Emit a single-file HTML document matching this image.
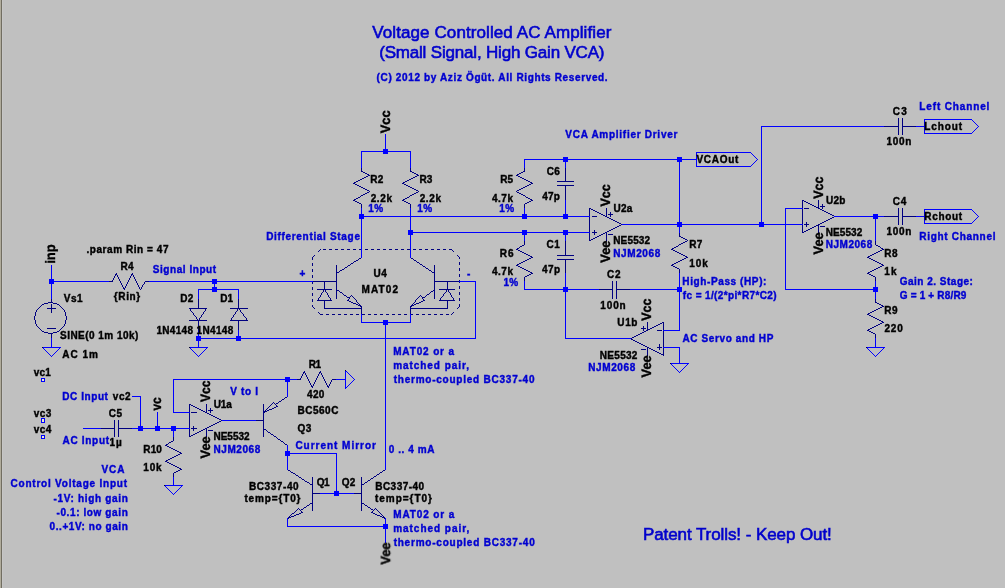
<!DOCTYPE html>
<html><head><meta charset="utf-8"><title>Voltage Controlled AC Amplifier</title>
<style>
html,body{margin:0;padding:0;background:#c0c0c0;overflow:hidden}
svg{display:block}
text{font-family:"Liberation Sans",Arial,Helvetica,sans-serif;font-weight:bold;white-space:pre}
</style></head>
<body>
<svg width="1005" height="588" viewBox="0 0 1005 588">
<rect x="0" y="0" width="1005" height="588" fill="#c0c0c0"/>
<rect x="0" y="0" width="1" height="588" fill="#b0ac9c"/><rect x="1" y="0" width="1" height="588" fill="#716d61"/><rect x="2" y="0" width="1" height="588" fill="#c6c6c6"/>
<g shape-rendering="crispEdges" stroke="none">
<path fill="#000080" d="M898 118h1v1h-1zM902 118h1v1h-1zM898 119h1v1h-1zM902 119h1v1h-1zM898 120h1v1h-1zM902 120h1v1h-1zM898 121h1v1h-1zM902 121h1v1h-1zM898 122h1v1h-1zM902 122h1v1h-1zM898 123h1v1h-1zM902 123h1v1h-1zM898 124h1v1h-1zM902 124h1v1h-1zM898 125h1v1h-1zM902 125h1v1h-1zM884 126h15v1h-15zM902 126h14v1h-14zM898 127h1v1h-1zM902 127h1v1h-1zM898 128h1v1h-1zM902 128h1v1h-1zM898 129h1v1h-1zM902 129h1v1h-1zM898 130h1v1h-1zM902 130h1v1h-1zM898 131h1v1h-1zM902 131h1v1h-1zM898 132h1v1h-1zM902 132h1v1h-1zM898 133h1v1h-1zM902 133h1v1h-1zM898 134h1v1h-1zM902 134h1v1h-1zM361 168h1v1h-1zM410 168h1v1h-1zM524 168h1v1h-1zM565 168h1v1h-1zM361 169h1v1h-1zM410 169h1v1h-1zM524 169h1v1h-1zM565 169h1v1h-1zM361 170h1v1h-1zM410 170h1v1h-1zM524 170h1v1h-1zM565 170h1v1h-1zM361 171h2v1h-2zM410 171h2v1h-2zM523 171h2v1h-2zM565 171h1v1h-1zM363 172h2v1h-2zM412 172h2v1h-2zM521 172h2v1h-2zM565 172h1v1h-1zM365 173h2v1h-2zM414 173h2v1h-2zM519 173h2v1h-2zM565 173h1v1h-1zM367 174h2v1h-2zM416 174h2v1h-2zM517 174h2v1h-2zM565 174h1v1h-1zM368 175h2v1h-2zM417 175h2v1h-2zM516 175h2v1h-2zM565 175h1v1h-1zM366 176h2v1h-2zM415 176h2v1h-2zM518 176h2v1h-2zM565 176h1v1h-1zM364 177h2v1h-2zM413 177h2v1h-2zM520 177h2v1h-2zM565 177h1v1h-1zM362 178h2v1h-2zM411 178h2v1h-2zM522 178h2v1h-2zM565 178h1v1h-1zM360 179h2v1h-2zM409 179h2v1h-2zM524 179h2v1h-2zM565 179h1v1h-1zM358 180h2v1h-2zM407 180h2v1h-2zM526 180h2v1h-2zM565 180h1v1h-1zM356 181h2v1h-2zM405 181h2v1h-2zM528 181h2v1h-2zM557 181h17v1h-17zM354 182h2v1h-2zM403 182h2v1h-2zM530 182h2v1h-2zM353 183h2v1h-2zM402 183h2v1h-2zM531 183h2v1h-2zM355 184h2v1h-2zM404 184h2v1h-2zM529 184h2v1h-2zM357 185h2v1h-2zM406 185h2v1h-2zM527 185h2v1h-2zM557 185h17v1h-17zM359 186h2v1h-2zM408 186h2v1h-2zM525 186h2v1h-2zM565 186h1v1h-1zM361 187h2v1h-2zM410 187h2v1h-2zM523 187h2v1h-2zM565 187h1v1h-1zM363 188h2v1h-2zM412 188h2v1h-2zM521 188h2v1h-2zM565 188h1v1h-1zM365 189h2v1h-2zM414 189h2v1h-2zM519 189h2v1h-2zM565 189h1v1h-1zM367 190h2v1h-2zM416 190h2v1h-2zM517 190h2v1h-2zM565 190h1v1h-1zM369 191h1v1h-1zM418 191h1v1h-1zM516 191h1v1h-1zM565 191h1v1h-1zM367 192h2v1h-2zM416 192h2v1h-2zM517 192h2v1h-2zM565 192h1v1h-1zM365 193h2v1h-2zM414 193h2v1h-2zM519 193h2v1h-2zM565 193h1v1h-1zM363 194h2v1h-2zM412 194h2v1h-2zM521 194h2v1h-2zM565 194h1v1h-1zM361 195h2v1h-2zM410 195h2v1h-2zM523 195h2v1h-2zM565 195h1v1h-1zM360 196h1v1h-1zM409 196h1v1h-1zM525 196h1v1h-1zM565 196h1v1h-1zM358 197h2v1h-2zM407 197h2v1h-2zM526 197h2v1h-2zM565 197h1v1h-1zM356 198h2v1h-2zM405 198h2v1h-2zM528 198h2v1h-2zM565 198h1v1h-1zM354 199h2v1h-2zM403 199h2v1h-2zM530 199h2v1h-2zM565 199h1v1h-1zM353 200h2v1h-2zM402 200h2v1h-2zM531 200h2v1h-2zM802 200h2v1h-2zM818 200h1v1h-1zM355 201h2v1h-2zM404 201h2v1h-2zM529 201h2v1h-2zM802 201h1v1h-1zM804 201h2v1h-2zM818 201h1v1h-1zM357 202h2v1h-2zM406 202h2v1h-2zM527 202h2v1h-2zM802 202h1v1h-1zM806 202h2v1h-2zM818 202h1v1h-1zM359 203h2v1h-2zM408 203h2v1h-2zM525 203h2v1h-2zM802 203h1v1h-1zM808 203h2v1h-2zM818 203h1v1h-1zM361 204h1v1h-1zM410 204h1v1h-1zM524 204h1v1h-1zM802 204h1v1h-1zM810 204h2v1h-2zM818 204h1v1h-1zM822 204h1v1h-1zM361 205h1v1h-1zM410 205h1v1h-1zM524 205h1v1h-1zM802 205h1v1h-1zM812 205h2v1h-2zM818 205h1v1h-1zM822 205h1v1h-1zM361 206h1v1h-1zM410 206h1v1h-1zM524 206h1v1h-1zM802 206h1v1h-1zM814 206h2v1h-2zM818 206h1v1h-1zM820 206h5v1h-5zM361 207h1v1h-1zM410 207h1v1h-1zM524 207h1v1h-1zM802 207h1v1h-1zM816 207h3v1h-3zM822 207h1v1h-1zM589 208h2v1h-2zM606 208h1v1h-1zM804 208h5v1h-5zM818 208h2v1h-2zM822 208h1v1h-1zM898 208h1v1h-1zM902 208h1v1h-1zM589 209h1v1h-1zM591 209h2v1h-2zM606 209h1v1h-1zM802 209h1v1h-1zM820 209h2v1h-2zM898 209h1v1h-1zM902 209h1v1h-1zM589 210h1v1h-1zM593 210h2v1h-2zM606 210h1v1h-1zM802 210h1v1h-1zM822 210h2v1h-2zM898 210h1v1h-1zM902 210h1v1h-1zM589 211h1v1h-1zM595 211h2v1h-2zM606 211h1v1h-1zM802 211h1v1h-1zM824 211h2v1h-2zM898 211h1v1h-1zM902 211h1v1h-1zM589 212h1v1h-1zM597 212h2v1h-2zM606 212h1v1h-1zM610 212h1v1h-1zM802 212h1v1h-1zM826 212h2v1h-2zM898 212h1v1h-1zM902 212h1v1h-1zM589 213h1v1h-1zM599 213h2v1h-2zM606 213h1v1h-1zM610 213h1v1h-1zM802 213h1v1h-1zM828 213h2v1h-2zM898 213h1v1h-1zM902 213h1v1h-1zM589 214h1v1h-1zM601 214h2v1h-2zM606 214h1v1h-1zM608 214h5v1h-5zM802 214h1v1h-1zM830 214h2v1h-2zM898 214h1v1h-1zM902 214h1v1h-1zM589 215h1v1h-1zM603 215h2v1h-2zM606 215h1v1h-1zM610 215h1v1h-1zM802 215h1v1h-1zM832 215h2v1h-2zM898 215h1v1h-1zM902 215h1v1h-1zM592 216h5v1h-5zM605 216h2v1h-2zM610 216h1v1h-1zM802 216h1v1h-1zM884 216h15v1h-15zM902 216h14v1h-14zM589 217h1v1h-1zM607 217h2v1h-2zM802 217h1v1h-1zM832 217h2v1h-2zM898 217h1v1h-1zM902 217h1v1h-1zM589 218h1v1h-1zM609 218h2v1h-2zM802 218h1v1h-1zM830 218h2v1h-2zM898 218h1v1h-1zM902 218h1v1h-1zM589 219h1v1h-1zM611 219h2v1h-2zM802 219h1v1h-1zM828 219h2v1h-2zM898 219h1v1h-1zM902 219h1v1h-1zM589 220h1v1h-1zM613 220h2v1h-2zM802 220h1v1h-1zM826 220h2v1h-2zM898 220h1v1h-1zM902 220h1v1h-1zM589 221h1v1h-1zM615 221h2v1h-2zM802 221h1v1h-1zM824 221h2v1h-2zM898 221h1v1h-1zM902 221h1v1h-1zM589 222h1v1h-1zM617 222h2v1h-2zM802 222h1v1h-1zM806 222h1v1h-1zM822 222h2v1h-2zM898 222h1v1h-1zM902 222h1v1h-1zM589 223h1v1h-1zM619 223h2v1h-2zM802 223h1v1h-1zM806 223h1v1h-1zM820 223h2v1h-2zM898 223h1v1h-1zM902 223h1v1h-1zM589 224h1v1h-1zM621 224h1v1h-1zM804 224h5v1h-5zM818 224h2v1h-2zM898 224h1v1h-1zM902 224h1v1h-1zM589 225h1v1h-1zM619 225h2v1h-2zM802 225h1v1h-1zM806 225h1v1h-1zM816 225h3v1h-3zM589 226h1v1h-1zM617 226h2v1h-2zM802 226h1v1h-1zM806 226h1v1h-1zM814 226h2v1h-2zM818 226h1v1h-1zM820 226h5v1h-5zM589 227h1v1h-1zM615 227h2v1h-2zM802 227h1v1h-1zM812 227h2v1h-2zM818 227h1v1h-1zM589 228h1v1h-1zM613 228h2v1h-2zM802 228h1v1h-1zM810 228h2v1h-2zM818 228h1v1h-1zM589 229h1v1h-1zM611 229h2v1h-2zM802 229h1v1h-1zM808 229h2v1h-2zM818 229h1v1h-1zM589 230h1v1h-1zM594 230h1v1h-1zM609 230h2v1h-2zM802 230h1v1h-1zM806 230h2v1h-2zM818 230h1v1h-1zM589 231h1v1h-1zM594 231h1v1h-1zM607 231h2v1h-2zM802 231h1v1h-1zM804 231h2v1h-2zM818 231h1v1h-1zM592 232h5v1h-5zM605 232h2v1h-2zM802 232h2v1h-2zM818 232h1v1h-1zM589 233h1v1h-1zM594 233h1v1h-1zM603 233h2v1h-2zM606 233h1v1h-1zM679 233h1v1h-1zM589 234h1v1h-1zM594 234h1v1h-1zM601 234h2v1h-2zM606 234h1v1h-1zM608 234h5v1h-5zM679 234h1v1h-1zM589 235h1v1h-1zM599 235h2v1h-2zM606 235h1v1h-1zM679 235h1v1h-1zM589 236h1v1h-1zM597 236h2v1h-2zM606 236h1v1h-1zM679 236h2v1h-2zM589 237h1v1h-1zM595 237h2v1h-2zM606 237h1v1h-1zM681 237h2v1h-2zM589 238h1v1h-1zM593 238h2v1h-2zM606 238h1v1h-1zM683 238h2v1h-2zM589 239h1v1h-1zM591 239h2v1h-2zM606 239h1v1h-1zM685 239h2v1h-2zM589 240h2v1h-2zM606 240h1v1h-1zM687 240h1v1h-1zM524 241h1v1h-1zM565 241h1v1h-1zM685 241h2v1h-2zM875 241h1v1h-1zM524 242h1v1h-1zM565 242h1v1h-1zM683 242h2v1h-2zM875 242h1v1h-1zM524 243h1v1h-1zM565 243h1v1h-1zM681 243h2v1h-2zM875 243h1v1h-1zM524 244h1v1h-1zM565 244h1v1h-1zM679 244h2v1h-2zM875 244h1v1h-1zM522 245h2v1h-2zM565 245h1v1h-1zM678 245h1v1h-1zM876 245h2v1h-2zM520 246h2v1h-2zM565 246h1v1h-1zM676 246h2v1h-2zM878 246h2v1h-2zM519 247h1v1h-1zM565 247h1v1h-1zM674 247h2v1h-2zM880 247h1v1h-1zM517 248h2v1h-2zM565 248h1v1h-1zM672 248h2v1h-2zM881 248h2v1h-2zM320 249h1v1h-1zM323 249h3v1h-3zM329 249h3v1h-3zM335 249h3v1h-3zM341 249h3v1h-3zM347 249h3v1h-3zM353 249h3v1h-3zM359 249h2v1h-2zM365 249h3v1h-3zM371 249h3v1h-3zM377 249h3v1h-3zM383 249h3v1h-3zM389 249h3v1h-3zM395 249h3v1h-3zM401 249h3v1h-3zM407 249h3v1h-3zM413 249h3v1h-3zM419 249h3v1h-3zM425 249h3v1h-3zM431 249h3v1h-3zM437 249h3v1h-3zM443 249h3v1h-3zM449 249h3v1h-3zM516 249h2v1h-2zM565 249h1v1h-1zM671 249h2v1h-2zM882 249h2v1h-2zM319 250h1v1h-1zM452 250h1v1h-1zM518 250h2v1h-2zM565 250h1v1h-1zM673 250h2v1h-2zM880 250h2v1h-2zM318 251h1v1h-1zM453 251h1v1h-1zM520 251h2v1h-2zM565 251h1v1h-1zM675 251h2v1h-2zM878 251h2v1h-2zM522 252h2v1h-2zM565 252h1v1h-1zM677 252h2v1h-2zM876 252h2v1h-2zM524 253h2v1h-2zM565 253h1v1h-1zM679 253h2v1h-2zM874 253h2v1h-2zM526 254h2v1h-2zM565 254h1v1h-1zM681 254h2v1h-2zM872 254h2v1h-2zM314 255h1v1h-1zM457 255h1v1h-1zM528 255h2v1h-2zM557 255h17v1h-17zM683 255h2v1h-2zM870 255h2v1h-2zM313 256h1v1h-1zM458 256h1v1h-1zM530 256h2v1h-2zM685 256h2v1h-2zM868 256h2v1h-2zM312 257h1v1h-1zM459 257h1v1h-1zM531 257h2v1h-2zM686 257h2v1h-2zM867 257h2v1h-2zM312 258h1v1h-1zM359 258h2v1h-2zM411 258h2v1h-2zM459 258h1v1h-1zM529 258h2v1h-2zM684 258h2v1h-2zM869 258h2v1h-2zM312 259h1v1h-1zM358 259h1v1h-1zM413 259h1v1h-1zM527 259h2v1h-2zM557 259h17v1h-17zM682 259h2v1h-2zM871 259h2v1h-2zM356 260h2v1h-2zM414 260h2v1h-2zM525 260h2v1h-2zM565 260h1v1h-1zM680 260h2v1h-2zM873 260h2v1h-2zM354 261h2v1h-2zM416 261h1v1h-1zM523 261h2v1h-2zM565 261h1v1h-1zM678 261h2v1h-2zM875 261h2v1h-2zM353 262h1v1h-1zM417 262h2v1h-2zM459 262h1v1h-1zM521 262h2v1h-2zM565 262h1v1h-1zM676 262h2v1h-2zM877 262h2v1h-2zM312 263h1v1h-1zM351 263h2v1h-2zM419 263h1v1h-1zM459 263h1v1h-1zM519 263h2v1h-2zM565 263h1v1h-1zM674 263h2v1h-2zM879 263h2v1h-2zM312 264h1v1h-1zM350 264h1v1h-1zM420 264h2v1h-2zM459 264h1v1h-1zM517 264h2v1h-2zM565 264h1v1h-1zM672 264h2v1h-2zM881 264h2v1h-2zM312 265h1v1h-1zM336 265h1v1h-1zM348 265h2v1h-2zM422 265h1v1h-1zM434 265h1v1h-1zM516 265h2v1h-2zM565 265h1v1h-1zM671 265h2v1h-2zM882 265h2v1h-2zM336 266h1v1h-1zM347 266h1v1h-1zM423 266h2v1h-2zM434 266h1v1h-1zM518 266h2v1h-2zM565 266h1v1h-1zM673 266h2v1h-2zM880 266h2v1h-2zM336 267h1v1h-1zM345 267h2v1h-2zM425 267h1v1h-1zM434 267h1v1h-1zM520 267h2v1h-2zM565 267h1v1h-1zM675 267h2v1h-2zM878 267h2v1h-2zM336 268h1v1h-1zM344 268h1v1h-1zM426 268h2v1h-2zM434 268h1v1h-1zM459 268h1v1h-1zM522 268h2v1h-2zM565 268h1v1h-1zM677 268h2v1h-2zM876 268h2v1h-2zM312 269h1v1h-1zM336 269h1v1h-1zM342 269h2v1h-2zM428 269h1v1h-1zM434 269h1v1h-1zM459 269h1v1h-1zM524 269h2v1h-2zM565 269h1v1h-1zM679 269h1v1h-1zM874 269h2v1h-2zM312 270h1v1h-1zM336 270h1v1h-1zM340 270h2v1h-2zM429 270h2v1h-2zM434 270h1v1h-1zM459 270h1v1h-1zM526 270h2v1h-2zM565 270h1v1h-1zM679 270h1v1h-1zM872 270h2v1h-2zM312 271h1v1h-1zM336 271h1v1h-1zM339 271h1v1h-1zM431 271h1v1h-1zM434 271h1v1h-1zM528 271h2v1h-2zM565 271h1v1h-1zM679 271h1v1h-1zM870 271h2v1h-2zM336 272h3v1h-3zM432 272h3v1h-3zM530 272h2v1h-2zM565 272h1v1h-1zM679 272h1v1h-1zM868 272h2v1h-2zM116 273h1v1h-1zM132 273h1v1h-1zM336 273h1v1h-1zM434 273h1v1h-1zM531 273h2v1h-2zM867 273h2v1h-2zM115 274h2v1h-2zM131 274h2v1h-2zM336 274h1v1h-1zM434 274h1v1h-1zM459 274h1v1h-1zM529 274h2v1h-2zM869 274h2v1h-2zM115 275h1v1h-1zM117 275h1v1h-1zM131 275h1v1h-1zM133 275h1v1h-1zM312 275h1v1h-1zM336 275h1v1h-1zM434 275h1v1h-1zM459 275h1v1h-1zM527 275h2v1h-2zM871 275h2v1h-2zM114 276h1v1h-1zM117 276h1v1h-1zM130 276h1v1h-1zM133 276h1v1h-1zM312 276h1v1h-1zM336 276h1v1h-1zM434 276h1v1h-1zM459 276h1v1h-1zM525 276h2v1h-2zM873 276h2v1h-2zM114 277h1v1h-1zM118 277h1v1h-1zM130 277h1v1h-1zM134 277h1v1h-1zM312 277h1v1h-1zM336 277h1v1h-1zM434 277h1v1h-1zM524 277h1v1h-1zM875 277h1v1h-1zM113 278h1v1h-1zM118 278h1v1h-1zM129 278h1v1h-1zM134 278h1v1h-1zM336 278h1v1h-1zM434 278h1v1h-1zM524 278h1v1h-1zM875 278h1v1h-1zM113 279h1v1h-1zM119 279h1v1h-1zM129 279h1v1h-1zM135 279h1v1h-1zM336 279h1v1h-1zM434 279h1v1h-1zM524 279h1v1h-1zM875 279h1v1h-1zM112 280h1v1h-1zM119 280h1v1h-1zM128 280h1v1h-1zM135 280h1v1h-1zM336 280h1v1h-1zM434 280h1v1h-1zM459 280h1v1h-1zM524 280h1v1h-1zM875 280h1v1h-1zM109 281h4v1h-4zM120 281h1v1h-1zM128 281h1v1h-1zM136 281h1v1h-1zM145 281h4v1h-4zM313 281h24v1h-24zM434 281h25v1h-25zM612 281h1v1h-1zM616 281h1v1h-1zM120 282h1v1h-1zM127 282h1v1h-1zM136 282h1v1h-1zM144 282h1v1h-1zM312 282h1v1h-1zM324 282h1v1h-1zM336 282h1v1h-1zM434 282h1v1h-1zM447 282h1v1h-1zM459 282h1v1h-1zM612 282h1v1h-1zM616 282h1v1h-1zM121 283h1v1h-1zM127 283h1v1h-1zM137 283h1v1h-1zM144 283h1v1h-1zM312 283h1v1h-1zM324 283h1v1h-1zM336 283h1v1h-1zM434 283h1v1h-1zM447 283h1v1h-1zM612 283h1v1h-1zM616 283h1v1h-1zM121 284h1v1h-1zM126 284h1v1h-1zM137 284h1v1h-1zM143 284h1v1h-1zM324 284h1v1h-1zM336 284h1v1h-1zM434 284h1v1h-1zM447 284h1v1h-1zM612 284h1v1h-1zM616 284h1v1h-1zM122 285h1v1h-1zM126 285h1v1h-1zM138 285h1v1h-1zM142 285h1v1h-1zM324 285h1v1h-1zM336 285h1v1h-1zM434 285h1v1h-1zM447 285h1v1h-1zM612 285h1v1h-1zM616 285h1v1h-1zM122 286h1v1h-1zM125 286h1v1h-1zM138 286h1v1h-1zM142 286h1v1h-1zM324 286h1v1h-1zM336 286h1v1h-1zM434 286h1v1h-1zM447 286h1v1h-1zM459 286h1v1h-1zM612 286h1v1h-1zM616 286h1v1h-1zM123 287h1v1h-1zM125 287h1v1h-1zM139 287h1v1h-1zM141 287h1v1h-1zM312 287h1v1h-1zM324 287h1v1h-1zM336 287h1v1h-1zM434 287h1v1h-1zM447 287h1v1h-1zM459 287h1v1h-1zM612 287h1v1h-1zM616 287h1v1h-1zM123 288h2v1h-2zM139 288h1v1h-1zM141 288h1v1h-1zM312 288h1v1h-1zM324 288h1v1h-1zM336 288h1v1h-1zM434 288h1v1h-1zM447 288h1v1h-1zM459 288h1v1h-1zM612 288h1v1h-1zM616 288h1v1h-1zM124 289h1v1h-1zM140 289h1v1h-1zM312 289h1v1h-1zM317 289h15v1h-15zM336 289h1v1h-1zM434 289h1v1h-1zM439 289h16v1h-16zM599 289h14v1h-14zM616 289h14v1h-14zM323 290h1v1h-1zM325 290h1v1h-1zM336 290h3v1h-3zM433 290h2v1h-2zM446 290h1v1h-1zM448 290h1v1h-1zM612 290h1v1h-1zM616 290h1v1h-1zM323 291h1v1h-1zM325 291h1v1h-1zM336 291h1v1h-1zM339 291h1v1h-1zM431 291h2v1h-2zM434 291h1v1h-1zM446 291h1v1h-1zM448 291h1v1h-1zM612 291h1v1h-1zM616 291h1v1h-1zM322 292h1v1h-1zM326 292h1v1h-1zM336 292h1v1h-1zM340 292h2v1h-2zM430 292h1v1h-1zM434 292h1v1h-1zM445 292h1v1h-1zM449 292h1v1h-1zM459 292h1v1h-1zM612 292h1v1h-1zM616 292h1v1h-1zM312 293h1v1h-1zM321 293h1v1h-1zM327 293h1v1h-1zM336 293h1v1h-1zM342 293h1v1h-1zM429 293h1v1h-1zM434 293h1v1h-1zM444 293h1v1h-1zM450 293h1v1h-1zM459 293h1v1h-1zM612 293h1v1h-1zM616 293h1v1h-1zM312 294h1v1h-1zM321 294h1v1h-1zM327 294h1v1h-1zM336 294h1v1h-1zM343 294h1v1h-1zM427 294h2v1h-2zM434 294h1v1h-1zM443 294h1v1h-1zM450 294h1v1h-1zM459 294h1v1h-1zM612 294h1v1h-1zM616 294h1v1h-1zM312 295h1v1h-1zM320 295h1v1h-1zM328 295h1v1h-1zM336 295h1v1h-1zM344 295h2v1h-2zM351 295h1v1h-1zM420 295h1v1h-1zM426 295h1v1h-1zM434 295h1v1h-1zM443 295h1v1h-1zM451 295h1v1h-1zM612 295h1v1h-1zM616 295h1v1h-1zM320 296h1v1h-1zM328 296h1v1h-1zM336 296h1v1h-1zM346 296h1v1h-1zM350 296h1v1h-1zM352 296h1v1h-1zM419 296h1v1h-1zM421 296h1v1h-1zM425 296h1v1h-1zM434 296h1v1h-1zM442 296h1v1h-1zM451 296h1v1h-1zM612 296h1v1h-1zM616 296h1v1h-1zM319 297h1v1h-1zM329 297h1v1h-1zM336 297h1v1h-1zM347 297h3v1h-3zM353 297h1v1h-1zM418 297h1v1h-1zM422 297h3v1h-3zM434 297h1v1h-1zM441 297h1v1h-1zM452 297h1v1h-1zM612 297h1v1h-1zM616 297h1v1h-1zM318 298h1v1h-1zM330 298h1v1h-1zM336 298h1v1h-1zM349 298h1v1h-1zM354 298h1v1h-1zM417 298h1v1h-1zM422 298h1v1h-1zM434 298h1v1h-1zM440 298h1v1h-1zM453 298h1v1h-1zM459 298h1v1h-1zM612 298h1v1h-1zM616 298h1v1h-1zM51 299h1v1h-1zM198 299h1v1h-1zM238 299h1v1h-1zM312 299h1v1h-1zM318 299h1v1h-1zM330 299h1v1h-1zM348 299h1v1h-1zM355 299h1v1h-1zM416 299h1v1h-1zM423 299h1v1h-1zM440 299h1v1h-1zM453 299h1v1h-1zM459 299h1v1h-1zM875 299h1v1h-1zM51 300h1v1h-1zM198 300h1v1h-1zM238 300h1v1h-1zM312 300h1v1h-1zM317 300h15v1h-15zM347 300h2v1h-2zM356 300h1v1h-1zM415 300h1v1h-1zM423 300h2v1h-2zM439 300h16v1h-16zM459 300h1v1h-1zM875 300h1v1h-1zM51 301h1v1h-1zM198 301h1v1h-1zM238 301h1v1h-1zM312 301h1v1h-1zM324 301h1v1h-1zM349 301h2v1h-2zM356 301h1v1h-1zM415 301h1v1h-1zM421 301h2v1h-2zM447 301h1v1h-1zM875 301h1v1h-1zM48 302h5v1h-5zM198 302h1v1h-1zM238 302h1v1h-1zM324 302h1v1h-1zM351 302h2v1h-2zM357 302h1v1h-1zM414 302h1v1h-1zM419 302h2v1h-2zM447 302h1v1h-1zM875 302h2v1h-2zM44 303h4v1h-4zM53 303h4v1h-4zM198 303h1v1h-1zM238 303h1v1h-1zM324 303h1v1h-1zM353 303h3v1h-3zM358 303h1v1h-1zM413 303h1v1h-1zM416 303h3v1h-3zM447 303h1v1h-1zM877 303h2v1h-2zM42 304h2v1h-2zM51 304h1v1h-1zM57 304h2v1h-2zM198 304h1v1h-1zM238 304h1v1h-1zM324 304h1v1h-1zM356 304h2v1h-2zM359 304h1v1h-1zM412 304h1v1h-1zM414 304h2v1h-2zM447 304h1v1h-1zM459 304h1v1h-1zM879 304h2v1h-2zM41 305h1v1h-1zM51 305h1v1h-1zM59 305h1v1h-1zM198 305h1v1h-1zM238 305h1v1h-1zM312 305h1v1h-1zM324 305h1v1h-1zM358 305h3v1h-3zM411 305h3v1h-3zM447 305h1v1h-1zM459 305h1v1h-1zM881 305h2v1h-2zM40 306h1v1h-1zM51 306h1v1h-1zM60 306h1v1h-1zM198 306h1v1h-1zM238 306h1v1h-1zM312 306h1v1h-1zM324 306h1v1h-1zM360 306h2v1h-2zM410 306h2v1h-2zM447 306h1v1h-1zM459 306h1v1h-1zM882 306h2v1h-2zM39 307h1v1h-1zM51 307h1v1h-1zM61 307h1v1h-1zM198 307h1v1h-1zM238 307h1v1h-1zM313 307h1v1h-1zM324 307h1v1h-1zM361 307h1v1h-1zM410 307h1v1h-1zM447 307h1v1h-1zM458 307h1v1h-1zM880 307h2v1h-2zM38 308h1v1h-1zM47 308h9v1h-9zM62 308h1v1h-1zM189 308h18v1h-18zM230 308h18v1h-18zM314 308h1v1h-1zM324 308h38v1h-38zM410 308h38v1h-38zM457 308h1v1h-1zM878 308h2v1h-2zM37 309h1v1h-1zM51 309h1v1h-1zM63 309h1v1h-1zM190 309h1v1h-1zM205 309h1v1h-1zM237 309h1v1h-1zM239 309h1v1h-1zM361 309h1v1h-1zM410 309h1v1h-1zM876 309h2v1h-2zM36 310h1v1h-1zM51 310h1v1h-1zM64 310h1v1h-1zM190 310h1v1h-1zM205 310h1v1h-1zM237 310h1v1h-1zM240 310h1v1h-1zM361 310h1v1h-1zM410 310h1v1h-1zM874 310h2v1h-2zM36 311h1v1h-1zM51 311h1v1h-1zM64 311h1v1h-1zM191 311h1v1h-1zM204 311h1v1h-1zM236 311h1v1h-1zM240 311h1v1h-1zM361 311h1v1h-1zM410 311h1v1h-1zM872 311h2v1h-2zM35 312h1v1h-1zM51 312h1v1h-1zM65 312h1v1h-1zM192 312h1v1h-1zM203 312h1v1h-1zM235 312h1v1h-1zM241 312h1v1h-1zM318 312h1v1h-1zM361 312h1v1h-1zM410 312h1v1h-1zM453 312h1v1h-1zM870 312h2v1h-2zM35 313h1v1h-1zM65 313h1v1h-1zM193 313h1v1h-1zM203 313h1v1h-1zM235 313h1v1h-1zM242 313h1v1h-1zM319 313h1v1h-1zM361 313h1v1h-1zM410 313h1v1h-1zM452 313h1v1h-1zM868 313h2v1h-2zM35 314h1v1h-1zM65 314h1v1h-1zM193 314h1v1h-1zM202 314h1v1h-1zM234 314h1v1h-1zM243 314h1v1h-1zM320 314h3v1h-3zM326 314h3v1h-3zM332 314h3v1h-3zM338 314h3v1h-3zM344 314h3v1h-3zM350 314h3v1h-3zM356 314h3v1h-3zM362 314h3v1h-3zM368 314h3v1h-3zM374 314h3v1h-3zM380 314h3v1h-3zM386 314h3v1h-3zM392 314h3v1h-3zM398 314h3v1h-3zM404 314h3v1h-3zM411 314h2v1h-2zM416 314h3v1h-3zM422 314h3v1h-3zM428 314h3v1h-3zM434 314h3v1h-3zM440 314h3v1h-3zM446 314h3v1h-3zM451 314h1v1h-1zM867 314h2v1h-2zM35 315h1v1h-1zM65 315h1v1h-1zM194 315h1v1h-1zM201 315h1v1h-1zM233 315h1v1h-1zM243 315h1v1h-1zM869 315h2v1h-2zM34 316h1v1h-1zM66 316h1v1h-1zM195 316h1v1h-1zM201 316h1v1h-1zM233 316h1v1h-1zM244 316h1v1h-1zM871 316h2v1h-2zM34 317h1v1h-1zM66 317h1v1h-1zM196 317h1v1h-1zM200 317h1v1h-1zM232 317h1v1h-1zM245 317h1v1h-1zM873 317h2v1h-2zM34 318h1v1h-1zM66 318h1v1h-1zM196 318h1v1h-1zM199 318h1v1h-1zM231 318h1v1h-1zM246 318h1v1h-1zM875 318h2v1h-2zM34 319h1v1h-1zM66 319h1v1h-1zM197 319h1v1h-1zM199 319h1v1h-1zM231 319h1v1h-1zM246 319h1v1h-1zM877 319h2v1h-2zM35 320h1v1h-1zM65 320h1v1h-1zM189 320h18v1h-18zM230 320h18v1h-18zM879 320h2v1h-2zM35 321h1v1h-1zM65 321h1v1h-1zM198 321h1v1h-1zM238 321h1v1h-1zM881 321h2v1h-2zM35 322h1v1h-1zM65 322h1v1h-1zM198 322h1v1h-1zM238 322h1v1h-1zM647 322h1v1h-1zM662 322h2v1h-2zM882 322h2v1h-2zM35 323h1v1h-1zM65 323h1v1h-1zM198 323h1v1h-1zM238 323h1v1h-1zM647 323h1v1h-1zM660 323h2v1h-2zM663 323h1v1h-1zM880 323h2v1h-2zM36 324h1v1h-1zM64 324h1v1h-1zM198 324h1v1h-1zM238 324h1v1h-1zM647 324h1v1h-1zM658 324h2v1h-2zM663 324h1v1h-1zM878 324h2v1h-2zM36 325h1v1h-1zM64 325h1v1h-1zM198 325h1v1h-1zM238 325h1v1h-1zM647 325h1v1h-1zM656 325h2v1h-2zM663 325h1v1h-1zM876 325h2v1h-2zM37 326h1v1h-1zM63 326h1v1h-1zM198 326h1v1h-1zM238 326h1v1h-1zM643 326h1v1h-1zM647 326h1v1h-1zM654 326h2v1h-2zM663 326h1v1h-1zM874 326h2v1h-2zM38 327h1v1h-1zM62 327h1v1h-1zM198 327h1v1h-1zM238 327h1v1h-1zM643 327h1v1h-1zM647 327h1v1h-1zM652 327h2v1h-2zM663 327h1v1h-1zM872 327h2v1h-2zM39 328h1v1h-1zM47 328h9v1h-9zM61 328h1v1h-1zM198 328h1v1h-1zM238 328h1v1h-1zM641 328h5v1h-5zM647 328h1v1h-1zM650 328h2v1h-2zM663 328h1v1h-1zM870 328h2v1h-2zM40 329h1v1h-1zM60 329h1v1h-1zM198 329h1v1h-1zM238 329h1v1h-1zM643 329h1v1h-1zM647 329h3v1h-3zM663 329h1v1h-1zM868 329h2v1h-2zM41 330h1v1h-1zM59 330h1v1h-1zM643 330h1v1h-1zM646 330h2v1h-2zM657 330h5v1h-5zM867 330h2v1h-2zM42 331h2v1h-2zM57 331h2v1h-2zM644 331h2v1h-2zM663 331h1v1h-1zM869 331h2v1h-2zM44 332h4v1h-4zM53 332h4v1h-4zM642 332h2v1h-2zM663 332h1v1h-1zM871 332h2v1h-2zM48 333h5v1h-5zM640 333h2v1h-2zM663 333h1v1h-1zM873 333h2v1h-2zM51 334h1v1h-1zM638 334h2v1h-2zM663 334h1v1h-1zM875 334h1v1h-1zM51 335h1v1h-1zM636 335h2v1h-2zM663 335h1v1h-1zM875 335h1v1h-1zM51 336h1v1h-1zM634 336h2v1h-2zM663 336h1v1h-1zM875 336h1v1h-1zM51 337h1v1h-1zM632 337h2v1h-2zM663 337h1v1h-1zM875 337h1v1h-1zM631 338h1v1h-1zM663 338h1v1h-1zM631 339h2v1h-2zM663 339h1v1h-1zM633 340h2v1h-2zM663 340h1v1h-1zM635 341h2v1h-2zM663 341h1v1h-1zM637 342h2v1h-2zM663 342h1v1h-1zM639 343h2v1h-2zM663 343h1v1h-1zM641 344h2v1h-2zM659 344h1v1h-1zM663 344h1v1h-1zM643 345h2v1h-2zM659 345h1v1h-1zM663 345h1v1h-1zM645 346h2v1h-2zM659 346h1v1h-1zM663 346h1v1h-1zM647 347h2v1h-2zM657 347h5v1h-5zM647 348h1v1h-1zM649 348h2v1h-2zM659 348h1v1h-1zM663 348h1v1h-1zM641 349h5v1h-5zM647 349h1v1h-1zM651 349h2v1h-2zM659 349h1v1h-1zM663 349h1v1h-1zM647 350h1v1h-1zM653 350h2v1h-2zM663 350h1v1h-1zM647 351h1v1h-1zM655 351h2v1h-2zM663 351h1v1h-1zM647 352h1v1h-1zM657 352h2v1h-2zM663 352h1v1h-1zM647 353h1v1h-1zM659 353h2v1h-2zM663 353h1v1h-1zM647 354h1v1h-1zM661 354h3v1h-3zM647 355h1v1h-1zM663 355h1v1h-1zM304 371h1v1h-1zM320 371h1v1h-1zM303 372h2v1h-2zM319 372h2v1h-2zM303 373h1v1h-1zM305 373h1v1h-1zM319 373h1v1h-1zM321 373h1v1h-1zM302 374h1v1h-1zM305 374h1v1h-1zM318 374h1v1h-1zM321 374h1v1h-1zM302 375h1v1h-1zM306 375h1v1h-1zM318 375h1v1h-1zM322 375h1v1h-1zM301 376h1v1h-1zM306 376h1v1h-1zM317 376h1v1h-1zM322 376h1v1h-1zM301 377h1v1h-1zM307 377h1v1h-1zM317 377h1v1h-1zM323 377h1v1h-1zM300 378h1v1h-1zM307 378h1v1h-1zM316 378h1v1h-1zM323 378h1v1h-1zM297 379h4v1h-4zM308 379h1v1h-1zM316 379h1v1h-1zM324 379h1v1h-1zM332 379h4v1h-4zM308 380h1v1h-1zM315 380h1v1h-1zM324 380h1v1h-1zM331 380h1v1h-1zM309 381h1v1h-1zM315 381h1v1h-1zM325 381h1v1h-1zM331 381h1v1h-1zM309 382h1v1h-1zM314 382h1v1h-1zM325 382h1v1h-1zM330 382h1v1h-1zM310 383h1v1h-1zM314 383h1v1h-1zM326 383h1v1h-1zM330 383h1v1h-1zM310 384h1v1h-1zM313 384h1v1h-1zM326 384h1v1h-1zM329 384h1v1h-1zM311 385h1v1h-1zM313 385h1v1h-1zM327 385h1v1h-1zM329 385h1v1h-1zM311 386h2v1h-2zM327 386h2v1h-2zM312 387h1v1h-1zM328 387h1v1h-1zM285 397h2v1h-2zM284 398h1v1h-1zM282 399h2v1h-2zM281 400h1v1h-1zM279 401h2v1h-2zM273 402h1v1h-1zM278 402h1v1h-1zM272 403h1v1h-1zM274 403h1v1h-1zM276 403h2v1h-2zM189 404h2v1h-2zM206 404h1v1h-1zM263 404h1v1h-1zM271 404h1v1h-1zM275 404h1v1h-1zM189 405h1v1h-1zM191 405h2v1h-2zM206 405h1v1h-1zM263 405h1v1h-1zM270 405h1v1h-1zM276 405h1v1h-1zM189 406h1v1h-1zM193 406h2v1h-2zM206 406h1v1h-1zM263 406h1v1h-1zM269 406h1v1h-1zM276 406h2v1h-2zM189 407h1v1h-1zM195 407h2v1h-2zM206 407h1v1h-1zM263 407h1v1h-1zM268 407h1v1h-1zM274 407h2v1h-2zM189 408h1v1h-1zM197 408h2v1h-2zM206 408h1v1h-1zM210 408h1v1h-1zM263 408h1v1h-1zM267 408h1v1h-1zM272 408h2v1h-2zM189 409h1v1h-1zM199 409h2v1h-2zM206 409h1v1h-1zM210 409h1v1h-1zM263 409h1v1h-1zM266 409h1v1h-1zM269 409h3v1h-3zM189 410h1v1h-1zM201 410h2v1h-2zM206 410h1v1h-1zM208 410h5v1h-5zM263 410h1v1h-1zM265 410h1v1h-1zM267 410h2v1h-2zM189 411h1v1h-1zM203 411h2v1h-2zM206 411h1v1h-1zM210 411h1v1h-1zM263 411h4v1h-4zM191 412h6v1h-6zM205 412h2v1h-2zM210 412h1v1h-1zM263 412h2v1h-2zM189 413h1v1h-1zM207 413h2v1h-2zM263 413h1v1h-1zM189 414h1v1h-1zM209 414h2v1h-2zM263 414h1v1h-1zM189 415h1v1h-1zM211 415h2v1h-2zM263 415h1v1h-1zM189 416h1v1h-1zM213 416h2v1h-2zM263 416h1v1h-1zM189 417h1v1h-1zM215 417h2v1h-2zM263 417h1v1h-1zM189 418h1v1h-1zM217 418h2v1h-2zM263 418h1v1h-1zM189 419h1v1h-1zM219 419h2v1h-2zM263 419h1v1h-1zM114 420h1v1h-1zM118 420h1v1h-1zM189 420h1v1h-1zM221 420h1v1h-1zM256 420h8v1h-8zM114 421h1v1h-1zM118 421h1v1h-1zM189 421h1v1h-1zM219 421h2v1h-2zM263 421h1v1h-1zM114 422h1v1h-1zM118 422h1v1h-1zM189 422h1v1h-1zM217 422h2v1h-2zM263 422h1v1h-1zM114 423h1v1h-1zM118 423h1v1h-1zM189 423h1v1h-1zM215 423h2v1h-2zM263 423h1v1h-1zM114 424h1v1h-1zM118 424h1v1h-1zM189 424h1v1h-1zM213 424h2v1h-2zM263 424h1v1h-1zM114 425h1v1h-1zM118 425h1v1h-1zM189 425h1v1h-1zM211 425h2v1h-2zM263 425h1v1h-1zM114 426h1v1h-1zM118 426h1v1h-1zM189 426h1v1h-1zM193 426h1v1h-1zM209 426h2v1h-2zM263 426h1v1h-1zM114 427h1v1h-1zM118 427h1v1h-1zM189 427h1v1h-1zM193 427h1v1h-1zM207 427h2v1h-2zM263 427h1v1h-1zM101 428h14v1h-14zM118 428h14v1h-14zM191 428h6v1h-6zM205 428h2v1h-2zM263 428h1v1h-1zM114 429h1v1h-1zM118 429h1v1h-1zM189 429h1v1h-1zM193 429h1v1h-1zM203 429h2v1h-2zM206 429h1v1h-1zM263 429h3v1h-3zM114 430h1v1h-1zM118 430h1v1h-1zM189 430h1v1h-1zM193 430h1v1h-1zM201 430h2v1h-2zM206 430h1v1h-1zM208 430h5v1h-5zM263 430h1v1h-1zM266 430h1v1h-1zM114 431h1v1h-1zM118 431h1v1h-1zM189 431h1v1h-1zM199 431h2v1h-2zM206 431h1v1h-1zM263 431h1v1h-1zM267 431h1v1h-1zM114 432h1v1h-1zM118 432h1v1h-1zM189 432h1v1h-1zM197 432h2v1h-2zM206 432h1v1h-1zM263 432h1v1h-1zM268 432h2v1h-2zM114 433h1v1h-1zM118 433h1v1h-1zM189 433h1v1h-1zM195 433h2v1h-2zM206 433h1v1h-1zM263 433h1v1h-1zM270 433h1v1h-1zM114 434h1v1h-1zM118 434h1v1h-1zM189 434h1v1h-1zM193 434h2v1h-2zM206 434h1v1h-1zM263 434h1v1h-1zM271 434h2v1h-2zM114 435h1v1h-1zM118 435h1v1h-1zM189 435h1v1h-1zM191 435h2v1h-2zM206 435h1v1h-1zM263 435h1v1h-1zM273 435h1v1h-1zM114 436h1v1h-1zM118 436h1v1h-1zM189 436h2v1h-2zM206 436h1v1h-1zM263 436h1v1h-1zM274 436h2v1h-2zM173 437h1v1h-1zM276 437h1v1h-1zM173 438h1v1h-1zM277 438h1v1h-1zM173 439h1v1h-1zM278 439h2v1h-2zM173 440h1v1h-1zM280 440h1v1h-1zM171 441h2v1h-2zM281 441h2v1h-2zM169 442h2v1h-2zM283 442h1v1h-1zM168 443h1v1h-1zM284 443h1v1h-1zM166 444h2v1h-2zM285 444h2v1h-2zM165 445h2v1h-2zM167 446h2v1h-2zM169 447h2v1h-2zM171 448h2v1h-2zM173 449h2v1h-2zM175 450h2v1h-2zM177 451h2v1h-2zM179 452h2v1h-2zM180 453h2v1h-2zM178 454h2v1h-2zM176 455h2v1h-2zM174 456h2v1h-2zM172 457h2v1h-2zM170 458h2v1h-2zM168 459h2v1h-2zM166 460h2v1h-2zM165 461h2v1h-2zM167 462h2v1h-2zM169 463h2v1h-2zM171 464h2v1h-2zM173 465h2v1h-2zM175 466h2v1h-2zM177 467h2v1h-2zM179 468h2v1h-2zM180 469h2v1h-2zM178 470h2v1h-2zM288 470h2v1h-2zM383 470h2v1h-2zM176 471h2v1h-2zM290 471h1v1h-1zM382 471h1v1h-1zM174 472h2v1h-2zM291 472h2v1h-2zM380 472h2v1h-2zM173 473h1v1h-1zM293 473h2v1h-2zM379 473h1v1h-1zM173 474h1v1h-1zM295 474h1v1h-1zM377 474h2v1h-2zM173 475h1v1h-1zM296 475h2v1h-2zM376 475h1v1h-1zM173 476h1v1h-1zM298 476h1v1h-1zM374 476h2v1h-2zM299 477h2v1h-2zM312 477h1v1h-1zM361 477h1v1h-1zM373 477h1v1h-1zM301 478h1v1h-1zM312 478h1v1h-1zM361 478h1v1h-1zM371 478h2v1h-2zM302 479h2v1h-2zM312 479h1v1h-1zM361 479h1v1h-1zM370 479h1v1h-1zM304 480h1v1h-1zM312 480h1v1h-1zM361 480h1v1h-1zM368 480h2v1h-2zM305 481h2v1h-2zM312 481h1v1h-1zM361 481h1v1h-1zM367 481h1v1h-1zM307 482h2v1h-2zM312 482h1v1h-1zM361 482h1v1h-1zM365 482h2v1h-2zM309 483h1v1h-1zM312 483h1v1h-1zM361 483h1v1h-1zM364 483h1v1h-1zM310 484h3v1h-3zM361 484h3v1h-3zM312 485h1v1h-1zM361 485h1v1h-1zM312 486h1v1h-1zM361 486h1v1h-1zM312 487h1v1h-1zM361 487h1v1h-1zM312 488h1v1h-1zM361 488h1v1h-1zM312 489h1v1h-1zM361 489h1v1h-1zM312 490h1v1h-1zM361 490h1v1h-1zM312 491h1v1h-1zM361 491h1v1h-1zM312 492h1v1h-1zM361 492h1v1h-1zM312 493h8v1h-8zM354 493h8v1h-8zM312 494h1v1h-1zM361 494h1v1h-1zM312 495h1v1h-1zM361 495h1v1h-1zM312 496h1v1h-1zM361 496h1v1h-1zM312 497h1v1h-1zM361 497h1v1h-1zM312 498h1v1h-1zM361 498h1v1h-1zM312 499h1v1h-1zM361 499h1v1h-1zM312 500h1v1h-1zM361 500h1v1h-1zM312 501h1v1h-1zM361 501h1v1h-1zM312 502h1v1h-1zM361 502h1v1h-1zM310 503h3v1h-3zM361 503h3v1h-3zM309 504h1v1h-1zM312 504h1v1h-1zM361 504h1v1h-1zM364 504h1v1h-1zM307 505h2v1h-2zM312 505h1v1h-1zM361 505h1v1h-1zM365 505h2v1h-2zM306 506h1v1h-1zM312 506h1v1h-1zM361 506h1v1h-1zM367 506h1v1h-1zM304 507h2v1h-2zM312 507h1v1h-1zM361 507h1v1h-1zM368 507h2v1h-2zM298 508h1v1h-1zM303 508h1v1h-1zM312 508h1v1h-1zM361 508h1v1h-1zM370 508h1v1h-1zM375 508h1v1h-1zM297 509h1v1h-1zM299 509h1v1h-1zM301 509h2v1h-2zM312 509h1v1h-1zM361 509h1v1h-1zM371 509h2v1h-2zM374 509h1v1h-1zM376 509h1v1h-1zM296 510h1v1h-1zM300 510h1v1h-1zM312 510h1v1h-1zM361 510h1v1h-1zM373 510h1v1h-1zM377 510h1v1h-1zM295 511h1v1h-1zM301 511h1v1h-1zM372 511h1v1h-1zM378 511h1v1h-1zM294 512h1v1h-1zM301 512h2v1h-2zM371 512h2v1h-2zM379 512h1v1h-1zM292 513h2v1h-2zM299 513h2v1h-2zM373 513h2v1h-2zM380 513h1v1h-1zM291 514h1v1h-1zM296 514h3v1h-3zM375 514h2v1h-2zM381 514h1v1h-1zM290 515h1v1h-1zM294 515h2v1h-2zM377 515h3v1h-3zM382 515h1v1h-1zM289 516h1v1h-1zM291 516h3v1h-3zM380 516h2v1h-2zM383 516h1v1h-1zM288 517h3v1h-3zM382 517h3v1h-3zM288 518h1v1h-1zM384 518h1v1h-1z"/>
<path fill="#0000ff" d="M924 119h48v1h-48zM924 120h1v1h-1zM972 120h1v1h-1zM924 121h1v1h-1zM973 121h1v1h-1zM924 122h1v1h-1zM974 122h1v1h-1zM924 123h1v1h-1zM975 123h1v1h-1zM924 124h1v1h-1zM976 124h1v1h-1zM924 125h1v1h-1zM977 125h1v1h-1zM761 126h123v1h-123zM916 126h9v1h-9zM978 126h1v1h-1zM761 127h1v1h-1zM924 127h1v1h-1zM977 127h1v1h-1zM761 128h1v1h-1zM924 128h1v1h-1zM976 128h1v1h-1zM761 129h1v1h-1zM924 129h1v1h-1zM975 129h1v1h-1zM761 130h1v1h-1zM924 130h1v1h-1zM974 130h1v1h-1zM761 131h1v1h-1zM924 131h1v1h-1zM973 131h1v1h-1zM761 132h1v1h-1zM924 132h1v1h-1zM972 132h1v1h-1zM761 133h1v1h-1zM924 133h48v1h-48zM385 134h1v1h-1zM761 134h1v1h-1zM385 135h1v1h-1zM761 135h1v1h-1zM385 136h1v1h-1zM761 136h1v1h-1zM385 137h1v1h-1zM761 137h1v1h-1zM385 138h1v1h-1zM761 138h1v1h-1zM385 139h1v1h-1zM761 139h1v1h-1zM385 140h1v1h-1zM761 140h1v1h-1zM385 141h1v1h-1zM761 141h1v1h-1zM385 142h1v1h-1zM761 142h1v1h-1zM385 143h1v1h-1zM761 143h1v1h-1zM385 144h1v1h-1zM761 144h1v1h-1zM385 145h1v1h-1zM761 145h1v1h-1zM385 146h1v1h-1zM761 146h1v1h-1zM385 147h1v1h-1zM761 147h1v1h-1zM385 148h1v1h-1zM761 148h1v1h-1zM383 149h5v1h-5zM761 149h1v1h-1zM383 150h5v1h-5zM761 150h1v1h-1zM361 151h50v1h-50zM761 151h1v1h-1zM361 152h1v1h-1zM383 152h5v1h-5zM410 152h1v1h-1zM696 152h55v1h-55zM761 152h1v1h-1zM361 153h1v1h-1zM383 153h5v1h-5zM410 153h1v1h-1zM696 153h1v1h-1zM751 153h1v1h-1zM761 153h1v1h-1zM361 154h1v1h-1zM410 154h1v1h-1zM696 154h1v1h-1zM752 154h1v1h-1zM761 154h1v1h-1zM361 155h1v1h-1zM410 155h1v1h-1zM696 155h1v1h-1zM753 155h1v1h-1zM761 155h1v1h-1zM361 156h1v1h-1zM410 156h1v1h-1zM696 156h1v1h-1zM754 156h1v1h-1zM761 156h1v1h-1zM361 157h1v1h-1zM410 157h1v1h-1zM563 157h5v1h-5zM677 157h5v1h-5zM696 157h1v1h-1zM755 157h1v1h-1zM761 157h1v1h-1zM361 158h1v1h-1zM410 158h1v1h-1zM563 158h5v1h-5zM677 158h5v1h-5zM696 158h1v1h-1zM756 158h1v1h-1zM761 158h1v1h-1zM361 159h1v1h-1zM410 159h1v1h-1zM524 159h173v1h-173zM757 159h1v1h-1zM761 159h1v1h-1zM361 160h1v1h-1zM410 160h1v1h-1zM524 160h1v1h-1zM563 160h5v1h-5zM677 160h5v1h-5zM696 160h1v1h-1zM756 160h1v1h-1zM761 160h1v1h-1zM361 161h1v1h-1zM410 161h1v1h-1zM524 161h1v1h-1zM563 161h5v1h-5zM677 161h5v1h-5zM696 161h1v1h-1zM755 161h1v1h-1zM761 161h1v1h-1zM361 162h1v1h-1zM410 162h1v1h-1zM524 162h1v1h-1zM565 162h1v1h-1zM679 162h1v1h-1zM696 162h1v1h-1zM754 162h1v1h-1zM761 162h1v1h-1zM361 163h1v1h-1zM410 163h1v1h-1zM524 163h1v1h-1zM565 163h1v1h-1zM679 163h1v1h-1zM696 163h1v1h-1zM753 163h1v1h-1zM761 163h1v1h-1zM361 164h1v1h-1zM410 164h1v1h-1zM524 164h1v1h-1zM565 164h1v1h-1zM679 164h1v1h-1zM696 164h1v1h-1zM752 164h1v1h-1zM761 164h1v1h-1zM361 165h1v1h-1zM410 165h1v1h-1zM524 165h1v1h-1zM565 165h1v1h-1zM679 165h1v1h-1zM696 165h1v1h-1zM751 165h1v1h-1zM761 165h1v1h-1zM361 166h1v1h-1zM410 166h1v1h-1zM524 166h1v1h-1zM565 166h1v1h-1zM679 166h1v1h-1zM696 166h55v1h-55zM761 166h1v1h-1zM361 167h1v1h-1zM410 167h1v1h-1zM524 167h1v1h-1zM565 167h1v1h-1zM679 167h1v1h-1zM761 167h1v1h-1zM679 168h1v1h-1zM761 168h1v1h-1zM679 169h1v1h-1zM761 169h1v1h-1zM679 170h1v1h-1zM761 170h1v1h-1zM679 171h1v1h-1zM761 171h1v1h-1zM679 172h1v1h-1zM761 172h1v1h-1zM679 173h1v1h-1zM761 173h1v1h-1zM679 174h1v1h-1zM761 174h1v1h-1zM679 175h1v1h-1zM761 175h1v1h-1zM679 176h1v1h-1zM761 176h1v1h-1zM679 177h1v1h-1zM761 177h1v1h-1zM679 178h1v1h-1zM761 178h1v1h-1zM679 179h1v1h-1zM761 179h1v1h-1zM679 180h1v1h-1zM761 180h1v1h-1zM679 181h1v1h-1zM761 181h1v1h-1zM679 182h1v1h-1zM761 182h1v1h-1zM679 183h1v1h-1zM761 183h1v1h-1zM679 184h1v1h-1zM761 184h1v1h-1zM679 185h1v1h-1zM761 185h1v1h-1zM679 186h1v1h-1zM761 186h1v1h-1zM679 187h1v1h-1zM761 187h1v1h-1zM679 188h1v1h-1zM761 188h1v1h-1zM679 189h1v1h-1zM761 189h1v1h-1zM679 190h1v1h-1zM761 190h1v1h-1zM679 191h1v1h-1zM761 191h1v1h-1zM679 192h1v1h-1zM761 192h1v1h-1zM679 193h1v1h-1zM761 193h1v1h-1zM679 194h1v1h-1zM761 194h1v1h-1zM679 195h1v1h-1zM761 195h1v1h-1zM679 196h1v1h-1zM761 196h1v1h-1zM679 197h1v1h-1zM761 197h1v1h-1zM679 198h1v1h-1zM761 198h1v1h-1zM679 199h1v1h-1zM761 199h1v1h-1zM565 200h1v1h-1zM679 200h1v1h-1zM761 200h1v1h-1zM565 201h1v1h-1zM679 201h1v1h-1zM761 201h1v1h-1zM565 202h1v1h-1zM679 202h1v1h-1zM761 202h1v1h-1zM565 203h1v1h-1zM679 203h1v1h-1zM761 203h1v1h-1zM565 204h1v1h-1zM679 204h1v1h-1zM761 204h1v1h-1zM565 205h1v1h-1zM679 205h1v1h-1zM761 205h1v1h-1zM565 206h1v1h-1zM679 206h1v1h-1zM761 206h1v1h-1zM565 207h1v1h-1zM679 207h1v1h-1zM761 207h1v1h-1zM361 208h1v1h-1zM410 208h1v1h-1zM524 208h1v1h-1zM565 208h1v1h-1zM679 208h1v1h-1zM761 208h1v1h-1zM785 208h18v1h-18zM361 209h1v1h-1zM410 209h1v1h-1zM524 209h1v1h-1zM565 209h1v1h-1zM679 209h1v1h-1zM761 209h1v1h-1zM785 209h1v1h-1zM924 209h48v1h-48zM361 210h1v1h-1zM410 210h1v1h-1zM524 210h1v1h-1zM565 210h1v1h-1zM679 210h1v1h-1zM761 210h1v1h-1zM785 210h1v1h-1zM924 210h1v1h-1zM972 210h1v1h-1zM361 211h1v1h-1zM410 211h1v1h-1zM524 211h1v1h-1zM565 211h1v1h-1zM679 211h1v1h-1zM761 211h1v1h-1zM785 211h1v1h-1zM924 211h1v1h-1zM973 211h1v1h-1zM361 212h1v1h-1zM410 212h1v1h-1zM524 212h1v1h-1zM565 212h1v1h-1zM679 212h1v1h-1zM761 212h1v1h-1zM785 212h1v1h-1zM924 212h1v1h-1zM974 212h1v1h-1zM361 213h1v1h-1zM410 213h1v1h-1zM524 213h1v1h-1zM565 213h1v1h-1zM679 213h1v1h-1zM761 213h1v1h-1zM785 213h1v1h-1zM924 213h1v1h-1zM975 213h1v1h-1zM359 214h5v1h-5zM410 214h1v1h-1zM522 214h5v1h-5zM563 214h5v1h-5zM679 214h1v1h-1zM761 214h1v1h-1zM785 214h1v1h-1zM873 214h5v1h-5zM924 214h1v1h-1zM976 214h1v1h-1zM359 215h5v1h-5zM410 215h1v1h-1zM522 215h5v1h-5zM563 215h5v1h-5zM679 215h1v1h-1zM761 215h1v1h-1zM785 215h1v1h-1zM873 215h5v1h-5zM924 215h1v1h-1zM977 215h1v1h-1zM359 216h231v1h-231zM679 216h1v1h-1zM761 216h1v1h-1zM785 216h1v1h-1zM834 216h50v1h-50zM916 216h9v1h-9zM978 216h1v1h-1zM359 217h5v1h-5zM410 217h1v1h-1zM522 217h5v1h-5zM563 217h5v1h-5zM679 217h1v1h-1zM761 217h1v1h-1zM785 217h1v1h-1zM873 217h5v1h-5zM924 217h1v1h-1zM977 217h1v1h-1zM359 218h5v1h-5zM410 218h1v1h-1zM522 218h5v1h-5zM563 218h5v1h-5zM679 218h1v1h-1zM761 218h1v1h-1zM785 218h1v1h-1zM873 218h5v1h-5zM924 218h1v1h-1zM976 218h1v1h-1zM361 219h1v1h-1zM410 219h1v1h-1zM679 219h1v1h-1zM761 219h1v1h-1zM785 219h1v1h-1zM875 219h1v1h-1zM924 219h1v1h-1zM975 219h1v1h-1zM361 220h1v1h-1zM410 220h1v1h-1zM679 220h1v1h-1zM761 220h1v1h-1zM785 220h1v1h-1zM875 220h1v1h-1zM924 220h1v1h-1zM974 220h1v1h-1zM361 221h1v1h-1zM410 221h1v1h-1zM679 221h1v1h-1zM761 221h1v1h-1zM785 221h1v1h-1zM875 221h1v1h-1zM924 221h1v1h-1zM973 221h1v1h-1zM361 222h1v1h-1zM410 222h1v1h-1zM677 222h5v1h-5zM759 222h5v1h-5zM785 222h1v1h-1zM875 222h1v1h-1zM924 222h1v1h-1zM972 222h1v1h-1zM361 223h1v1h-1zM410 223h1v1h-1zM677 223h5v1h-5zM759 223h5v1h-5zM785 223h1v1h-1zM875 223h1v1h-1zM924 223h48v1h-48zM361 224h1v1h-1zM410 224h1v1h-1zM622 224h181v1h-181zM875 224h1v1h-1zM361 225h1v1h-1zM410 225h1v1h-1zM677 225h5v1h-5zM759 225h5v1h-5zM785 225h1v1h-1zM875 225h1v1h-1zM361 226h1v1h-1zM410 226h1v1h-1zM677 226h5v1h-5zM759 226h5v1h-5zM785 226h1v1h-1zM875 226h1v1h-1zM361 227h1v1h-1zM410 227h1v1h-1zM679 227h1v1h-1zM785 227h1v1h-1zM875 227h1v1h-1zM361 228h1v1h-1zM410 228h1v1h-1zM679 228h1v1h-1zM785 228h1v1h-1zM875 228h1v1h-1zM361 229h1v1h-1zM410 229h1v1h-1zM679 229h1v1h-1zM785 229h1v1h-1zM875 229h1v1h-1zM361 230h1v1h-1zM408 230h5v1h-5zM522 230h5v1h-5zM563 230h5v1h-5zM679 230h1v1h-1zM785 230h1v1h-1zM875 230h1v1h-1zM361 231h1v1h-1zM408 231h5v1h-5zM522 231h5v1h-5zM563 231h5v1h-5zM679 231h1v1h-1zM785 231h1v1h-1zM875 231h1v1h-1zM361 232h1v1h-1zM408 232h182v1h-182zM679 232h1v1h-1zM785 232h1v1h-1zM875 232h1v1h-1zM361 233h1v1h-1zM408 233h5v1h-5zM522 233h5v1h-5zM563 233h5v1h-5zM785 233h1v1h-1zM875 233h1v1h-1zM361 234h1v1h-1zM408 234h5v1h-5zM522 234h5v1h-5zM563 234h5v1h-5zM785 234h1v1h-1zM875 234h1v1h-1zM361 235h1v1h-1zM410 235h1v1h-1zM524 235h1v1h-1zM565 235h1v1h-1zM785 235h1v1h-1zM875 235h1v1h-1zM361 236h1v1h-1zM410 236h1v1h-1zM524 236h1v1h-1zM565 236h1v1h-1zM785 236h1v1h-1zM875 236h1v1h-1zM361 237h1v1h-1zM410 237h1v1h-1zM524 237h1v1h-1zM565 237h1v1h-1zM785 237h1v1h-1zM875 237h1v1h-1zM361 238h1v1h-1zM410 238h1v1h-1zM524 238h1v1h-1zM565 238h1v1h-1zM785 238h1v1h-1zM875 238h1v1h-1zM361 239h1v1h-1zM410 239h1v1h-1zM524 239h1v1h-1zM565 239h1v1h-1zM785 239h1v1h-1zM875 239h1v1h-1zM361 240h1v1h-1zM410 240h1v1h-1zM524 240h1v1h-1zM565 240h1v1h-1zM785 240h1v1h-1zM875 240h1v1h-1zM361 241h1v1h-1zM410 241h1v1h-1zM785 241h1v1h-1zM361 242h1v1h-1zM410 242h1v1h-1zM785 242h1v1h-1zM361 243h1v1h-1zM410 243h1v1h-1zM785 243h1v1h-1zM361 244h1v1h-1zM410 244h1v1h-1zM785 244h1v1h-1zM361 245h1v1h-1zM410 245h1v1h-1zM785 245h1v1h-1zM361 246h1v1h-1zM410 246h1v1h-1zM785 246h1v1h-1zM361 247h1v1h-1zM410 247h1v1h-1zM785 247h1v1h-1zM361 248h1v1h-1zM410 248h1v1h-1zM785 248h1v1h-1zM361 249h1v1h-1zM410 249h1v1h-1zM785 249h1v1h-1zM361 250h1v1h-1zM410 250h1v1h-1zM785 250h1v1h-1zM361 251h1v1h-1zM410 251h1v1h-1zM785 251h1v1h-1zM361 252h1v1h-1zM410 252h1v1h-1zM785 252h1v1h-1zM361 253h1v1h-1zM410 253h1v1h-1zM785 253h1v1h-1zM361 254h1v1h-1zM410 254h1v1h-1zM785 254h1v1h-1zM361 255h1v1h-1zM410 255h1v1h-1zM785 255h1v1h-1zM361 256h1v1h-1zM410 256h1v1h-1zM785 256h1v1h-1zM361 257h1v1h-1zM410 257h1v1h-1zM785 257h1v1h-1zM785 258h1v1h-1zM785 259h1v1h-1zM785 260h1v1h-1zM785 261h1v1h-1zM785 262h1v1h-1zM785 263h1v1h-1zM785 264h1v1h-1zM51 265h1v1h-1zM785 265h1v1h-1zM51 266h1v1h-1zM785 266h1v1h-1zM51 267h1v1h-1zM785 267h1v1h-1zM51 268h1v1h-1zM785 268h1v1h-1zM51 269h1v1h-1zM785 269h1v1h-1zM51 270h1v1h-1zM785 270h1v1h-1zM51 271h1v1h-1zM785 271h1v1h-1zM51 272h1v1h-1zM785 272h1v1h-1zM51 273h1v1h-1zM565 273h1v1h-1zM679 273h1v1h-1zM785 273h1v1h-1zM51 274h1v1h-1zM565 274h1v1h-1zM679 274h1v1h-1zM785 274h1v1h-1zM51 275h1v1h-1zM565 275h1v1h-1zM679 275h1v1h-1zM785 275h1v1h-1zM51 276h1v1h-1zM565 276h1v1h-1zM679 276h1v1h-1zM785 276h1v1h-1zM51 277h1v1h-1zM565 277h1v1h-1zM679 277h1v1h-1zM785 277h1v1h-1zM51 278h1v1h-1zM565 278h1v1h-1zM679 278h1v1h-1zM785 278h1v1h-1zM49 279h5v1h-5zM212 279h5v1h-5zM565 279h1v1h-1zM679 279h1v1h-1zM785 279h1v1h-1zM49 280h5v1h-5zM212 280h5v1h-5zM565 280h1v1h-1zM679 280h1v1h-1zM785 280h1v1h-1zM49 281h60v1h-60zM149 281h164v1h-164zM459 281h17v1h-17zM524 281h1v1h-1zM565 281h1v1h-1zM679 281h1v1h-1zM785 281h1v1h-1zM875 281h1v1h-1zM49 282h5v1h-5zM212 282h5v1h-5zM475 282h1v1h-1zM524 282h1v1h-1zM565 282h1v1h-1zM679 282h1v1h-1zM785 282h1v1h-1zM875 282h1v1h-1zM49 283h5v1h-5zM212 283h5v1h-5zM475 283h1v1h-1zM524 283h1v1h-1zM565 283h1v1h-1zM679 283h1v1h-1zM785 283h1v1h-1zM875 283h1v1h-1zM51 284h1v1h-1zM214 284h1v1h-1zM475 284h1v1h-1zM524 284h1v1h-1zM565 284h1v1h-1zM679 284h1v1h-1zM785 284h1v1h-1zM875 284h1v1h-1zM51 285h1v1h-1zM214 285h1v1h-1zM475 285h1v1h-1zM524 285h1v1h-1zM565 285h1v1h-1zM679 285h1v1h-1zM785 285h1v1h-1zM875 285h1v1h-1zM51 286h1v1h-1zM214 286h1v1h-1zM475 286h1v1h-1zM524 286h1v1h-1zM565 286h1v1h-1zM679 286h1v1h-1zM785 286h1v1h-1zM875 286h1v1h-1zM51 287h1v1h-1zM212 287h5v1h-5zM475 287h1v1h-1zM524 287h1v1h-1zM563 287h5v1h-5zM677 287h5v1h-5zM785 287h1v1h-1zM873 287h5v1h-5zM51 288h1v1h-1zM212 288h5v1h-5zM475 288h1v1h-1zM524 288h1v1h-1zM563 288h5v1h-5zM677 288h5v1h-5zM785 288h1v1h-1zM873 288h5v1h-5zM51 289h1v1h-1zM198 289h41v1h-41zM475 289h1v1h-1zM524 289h75v1h-75zM630 289h52v1h-52zM785 289h93v1h-93zM51 290h1v1h-1zM198 290h1v1h-1zM212 290h5v1h-5zM238 290h1v1h-1zM475 290h1v1h-1zM563 290h5v1h-5zM677 290h5v1h-5zM873 290h5v1h-5zM51 291h1v1h-1zM198 291h1v1h-1zM212 291h5v1h-5zM238 291h1v1h-1zM475 291h1v1h-1zM563 291h5v1h-5zM677 291h5v1h-5zM873 291h5v1h-5zM51 292h1v1h-1zM198 292h1v1h-1zM238 292h1v1h-1zM475 292h1v1h-1zM565 292h1v1h-1zM679 292h1v1h-1zM875 292h1v1h-1zM51 293h1v1h-1zM198 293h1v1h-1zM238 293h1v1h-1zM475 293h1v1h-1zM565 293h1v1h-1zM679 293h1v1h-1zM875 293h1v1h-1zM51 294h1v1h-1zM198 294h1v1h-1zM238 294h1v1h-1zM475 294h1v1h-1zM565 294h1v1h-1zM679 294h1v1h-1zM875 294h1v1h-1zM51 295h1v1h-1zM198 295h1v1h-1zM238 295h1v1h-1zM475 295h1v1h-1zM565 295h1v1h-1zM679 295h1v1h-1zM875 295h1v1h-1zM51 296h1v1h-1zM198 296h1v1h-1zM238 296h1v1h-1zM475 296h1v1h-1zM565 296h1v1h-1zM679 296h1v1h-1zM875 296h1v1h-1zM51 297h1v1h-1zM198 297h1v1h-1zM238 297h1v1h-1zM475 297h1v1h-1zM565 297h1v1h-1zM679 297h1v1h-1zM875 297h1v1h-1zM51 298h1v1h-1zM198 298h1v1h-1zM238 298h1v1h-1zM475 298h1v1h-1zM565 298h1v1h-1zM679 298h1v1h-1zM875 298h1v1h-1zM475 299h1v1h-1zM565 299h1v1h-1zM679 299h1v1h-1zM475 300h1v1h-1zM565 300h1v1h-1zM679 300h1v1h-1zM475 301h1v1h-1zM565 301h1v1h-1zM679 301h1v1h-1zM475 302h1v1h-1zM565 302h1v1h-1zM679 302h1v1h-1zM475 303h1v1h-1zM565 303h1v1h-1zM679 303h1v1h-1zM475 304h1v1h-1zM565 304h1v1h-1zM679 304h1v1h-1zM475 305h1v1h-1zM565 305h1v1h-1zM679 305h1v1h-1zM475 306h1v1h-1zM565 306h1v1h-1zM679 306h1v1h-1zM475 307h1v1h-1zM565 307h1v1h-1zM679 307h1v1h-1zM475 308h1v1h-1zM565 308h1v1h-1zM679 308h1v1h-1zM475 309h1v1h-1zM565 309h1v1h-1zM679 309h1v1h-1zM475 310h1v1h-1zM565 310h1v1h-1zM679 310h1v1h-1zM475 311h1v1h-1zM565 311h1v1h-1zM679 311h1v1h-1zM475 312h1v1h-1zM565 312h1v1h-1zM679 312h1v1h-1zM475 313h1v1h-1zM565 313h1v1h-1zM679 313h1v1h-1zM361 314h1v1h-1zM410 314h1v1h-1zM475 314h1v1h-1zM565 314h1v1h-1zM679 314h1v1h-1zM361 315h1v1h-1zM410 315h1v1h-1zM475 315h1v1h-1zM565 315h1v1h-1zM679 315h1v1h-1zM361 316h1v1h-1zM410 316h1v1h-1zM475 316h1v1h-1zM565 316h1v1h-1zM679 316h1v1h-1zM361 317h1v1h-1zM410 317h1v1h-1zM475 317h1v1h-1zM565 317h1v1h-1zM679 317h1v1h-1zM361 318h1v1h-1zM410 318h1v1h-1zM475 318h1v1h-1zM565 318h1v1h-1zM679 318h1v1h-1zM361 319h1v1h-1zM410 319h1v1h-1zM475 319h1v1h-1zM565 319h1v1h-1zM679 319h1v1h-1zM361 320h1v1h-1zM383 320h5v1h-5zM410 320h1v1h-1zM475 320h1v1h-1zM565 320h1v1h-1zM679 320h1v1h-1zM361 321h1v1h-1zM383 321h5v1h-5zM410 321h1v1h-1zM475 321h1v1h-1zM565 321h1v1h-1zM679 321h1v1h-1zM361 322h50v1h-50zM475 322h1v1h-1zM565 322h1v1h-1zM679 322h1v1h-1zM383 323h5v1h-5zM475 323h1v1h-1zM565 323h1v1h-1zM679 323h1v1h-1zM383 324h5v1h-5zM475 324h1v1h-1zM565 324h1v1h-1zM679 324h1v1h-1zM385 325h1v1h-1zM475 325h1v1h-1zM565 325h1v1h-1zM679 325h1v1h-1zM385 326h1v1h-1zM475 326h1v1h-1zM565 326h1v1h-1zM679 326h1v1h-1zM385 327h1v1h-1zM475 327h1v1h-1zM565 327h1v1h-1zM679 327h1v1h-1zM385 328h1v1h-1zM475 328h1v1h-1zM565 328h1v1h-1zM679 328h1v1h-1zM385 329h1v1h-1zM475 329h1v1h-1zM565 329h1v1h-1zM679 329h1v1h-1zM198 330h1v1h-1zM238 330h1v1h-1zM385 330h1v1h-1zM475 330h1v1h-1zM565 330h1v1h-1zM663 330h17v1h-17zM198 331h1v1h-1zM238 331h1v1h-1zM385 331h1v1h-1zM475 331h1v1h-1zM565 331h1v1h-1zM198 332h1v1h-1zM238 332h1v1h-1zM385 332h1v1h-1zM475 332h1v1h-1zM565 332h1v1h-1zM198 333h1v1h-1zM238 333h1v1h-1zM385 333h1v1h-1zM475 333h1v1h-1zM565 333h1v1h-1zM198 334h1v1h-1zM238 334h1v1h-1zM385 334h1v1h-1zM475 334h1v1h-1zM565 334h1v1h-1zM198 335h1v1h-1zM238 335h1v1h-1zM385 335h1v1h-1zM475 335h1v1h-1zM565 335h1v1h-1zM196 336h5v1h-5zM236 336h5v1h-5zM385 336h1v1h-1zM475 336h1v1h-1zM565 336h1v1h-1zM196 337h5v1h-5zM236 337h5v1h-5zM385 337h1v1h-1zM475 337h1v1h-1zM565 337h1v1h-1zM51 338h1v1h-1zM196 338h280v1h-280zM565 338h66v1h-66zM875 338h1v1h-1zM51 339h1v1h-1zM196 339h5v1h-5zM236 339h5v1h-5zM385 339h1v1h-1zM875 339h1v1h-1zM51 340h1v1h-1zM196 340h5v1h-5zM236 340h5v1h-5zM385 340h1v1h-1zM875 340h1v1h-1zM51 341h1v1h-1zM198 341h1v1h-1zM385 341h1v1h-1zM875 341h1v1h-1zM51 342h1v1h-1zM198 342h1v1h-1zM385 342h1v1h-1zM875 342h1v1h-1zM51 343h1v1h-1zM198 343h1v1h-1zM385 343h1v1h-1zM875 343h1v1h-1zM51 344h1v1h-1zM198 344h1v1h-1zM385 344h1v1h-1zM875 344h1v1h-1zM51 345h1v1h-1zM198 345h1v1h-1zM385 345h1v1h-1zM875 345h1v1h-1zM51 346h1v1h-1zM198 346h1v1h-1zM385 346h1v1h-1zM875 346h1v1h-1zM43 347h18v1h-18zM190 347h18v1h-18zM385 347h1v1h-1zM663 347h17v1h-17zM867 347h18v1h-18zM43 348h1v1h-1zM59 348h1v1h-1zM190 348h1v1h-1zM206 348h1v1h-1zM385 348h1v1h-1zM679 348h1v1h-1zM867 348h1v1h-1zM883 348h1v1h-1zM44 349h1v1h-1zM58 349h1v1h-1zM191 349h1v1h-1zM205 349h1v1h-1zM385 349h1v1h-1zM679 349h1v1h-1zM868 349h1v1h-1zM882 349h1v1h-1zM45 350h1v1h-1zM57 350h1v1h-1zM192 350h1v1h-1zM204 350h1v1h-1zM385 350h1v1h-1zM679 350h1v1h-1zM869 350h1v1h-1zM881 350h1v1h-1zM46 351h1v1h-1zM56 351h1v1h-1zM193 351h1v1h-1zM203 351h1v1h-1zM385 351h1v1h-1zM679 351h1v1h-1zM870 351h1v1h-1zM880 351h1v1h-1zM47 352h1v1h-1zM55 352h1v1h-1zM194 352h1v1h-1zM202 352h1v1h-1zM385 352h1v1h-1zM679 352h1v1h-1zM871 352h1v1h-1zM879 352h1v1h-1zM48 353h1v1h-1zM54 353h1v1h-1zM195 353h1v1h-1zM201 353h1v1h-1zM385 353h1v1h-1zM679 353h1v1h-1zM872 353h1v1h-1zM878 353h1v1h-1zM49 354h1v1h-1zM53 354h1v1h-1zM196 354h1v1h-1zM200 354h1v1h-1zM385 354h1v1h-1zM679 354h1v1h-1zM873 354h1v1h-1zM877 354h1v1h-1zM50 355h1v1h-1zM52 355h1v1h-1zM197 355h1v1h-1zM199 355h1v1h-1zM385 355h1v1h-1zM679 355h1v1h-1zM874 355h1v1h-1zM876 355h1v1h-1zM51 356h1v1h-1zM198 356h1v1h-1zM385 356h1v1h-1zM679 356h1v1h-1zM875 356h1v1h-1zM385 357h1v1h-1zM679 357h1v1h-1zM385 358h1v1h-1zM679 358h1v1h-1zM385 359h1v1h-1zM679 359h1v1h-1zM385 360h1v1h-1zM679 360h1v1h-1zM385 361h1v1h-1zM679 361h1v1h-1zM385 362h1v1h-1zM679 362h1v1h-1zM385 363h1v1h-1zM671 363h18v1h-18zM385 364h1v1h-1zM671 364h1v1h-1zM687 364h1v1h-1zM385 365h1v1h-1zM672 365h1v1h-1zM686 365h1v1h-1zM385 366h1v1h-1zM673 366h1v1h-1zM685 366h1v1h-1zM385 367h1v1h-1zM674 367h1v1h-1zM684 367h1v1h-1zM385 368h1v1h-1zM675 368h1v1h-1zM683 368h1v1h-1zM385 369h1v1h-1zM676 369h1v1h-1zM682 369h1v1h-1zM385 370h1v1h-1zM677 370h1v1h-1zM681 370h1v1h-1zM345 371h2v1h-2zM385 371h1v1h-1zM678 371h1v1h-1zM680 371h1v1h-1zM345 372h1v1h-1zM347 372h1v1h-1zM385 372h1v1h-1zM679 372h1v1h-1zM345 373h1v1h-1zM348 373h1v1h-1zM385 373h1v1h-1zM345 374h1v1h-1zM349 374h1v1h-1zM385 374h1v1h-1zM345 375h1v1h-1zM350 375h1v1h-1zM385 375h1v1h-1zM345 376h1v1h-1zM351 376h1v1h-1zM385 376h1v1h-1zM285 377h5v1h-5zM345 377h1v1h-1zM352 377h1v1h-1zM385 377h1v1h-1zM41 378h4v1h-4zM285 378h5v1h-5zM345 378h1v1h-1zM353 378h1v1h-1zM385 378h1v1h-1zM41 379h1v1h-1zM44 379h1v1h-1zM173 379h124v1h-124zM336 379h10v1h-10zM354 379h1v1h-1zM385 379h1v1h-1zM41 380h1v1h-1zM44 380h1v1h-1zM173 380h1v1h-1zM285 380h5v1h-5zM345 380h1v1h-1zM353 380h1v1h-1zM385 380h1v1h-1zM41 381h4v1h-4zM173 381h1v1h-1zM285 381h5v1h-5zM345 381h1v1h-1zM352 381h1v1h-1zM385 381h1v1h-1zM173 382h1v1h-1zM287 382h1v1h-1zM345 382h1v1h-1zM351 382h1v1h-1zM385 382h1v1h-1zM173 383h1v1h-1zM287 383h1v1h-1zM345 383h1v1h-1zM350 383h1v1h-1zM385 383h1v1h-1zM173 384h1v1h-1zM287 384h1v1h-1zM345 384h1v1h-1zM349 384h1v1h-1zM385 384h1v1h-1zM173 385h1v1h-1zM287 385h1v1h-1zM345 385h1v1h-1zM348 385h1v1h-1zM385 385h1v1h-1zM173 386h1v1h-1zM287 386h1v1h-1zM345 386h1v1h-1zM347 386h1v1h-1zM385 386h1v1h-1zM173 387h1v1h-1zM287 387h1v1h-1zM345 387h2v1h-2zM385 387h1v1h-1zM173 388h1v1h-1zM287 388h1v1h-1zM345 388h1v1h-1zM385 388h1v1h-1zM173 389h1v1h-1zM287 389h1v1h-1zM385 389h1v1h-1zM173 390h1v1h-1zM287 390h1v1h-1zM385 390h1v1h-1zM173 391h1v1h-1zM287 391h1v1h-1zM385 391h1v1h-1zM173 392h1v1h-1zM287 392h1v1h-1zM385 392h1v1h-1zM173 393h1v1h-1zM287 393h1v1h-1zM385 393h1v1h-1zM173 394h1v1h-1zM287 394h1v1h-1zM385 394h1v1h-1zM173 395h1v1h-1zM287 395h1v1h-1zM385 395h1v1h-1zM132 396h9v1h-9zM173 396h1v1h-1zM287 396h1v1h-1zM385 396h1v1h-1zM140 397h1v1h-1zM173 397h1v1h-1zM385 397h1v1h-1zM140 398h1v1h-1zM173 398h1v1h-1zM385 398h1v1h-1zM140 399h1v1h-1zM173 399h1v1h-1zM385 399h1v1h-1zM140 400h1v1h-1zM173 400h1v1h-1zM385 400h1v1h-1zM140 401h1v1h-1zM173 401h1v1h-1zM385 401h1v1h-1zM140 402h1v1h-1zM173 402h1v1h-1zM385 402h1v1h-1zM140 403h1v1h-1zM173 403h1v1h-1zM385 403h1v1h-1zM140 404h1v1h-1zM173 404h1v1h-1zM385 404h1v1h-1zM140 405h1v1h-1zM173 405h1v1h-1zM385 405h1v1h-1zM140 406h1v1h-1zM173 406h1v1h-1zM385 406h1v1h-1zM140 407h1v1h-1zM173 407h1v1h-1zM385 407h1v1h-1zM140 408h1v1h-1zM173 408h1v1h-1zM385 408h1v1h-1zM140 409h1v1h-1zM173 409h1v1h-1zM385 409h1v1h-1zM140 410h1v1h-1zM173 410h1v1h-1zM385 410h1v1h-1zM140 411h1v1h-1zM173 411h1v1h-1zM385 411h1v1h-1zM140 412h1v1h-1zM157 412h1v1h-1zM173 412h17v1h-17zM385 412h1v1h-1zM140 413h1v1h-1zM157 413h1v1h-1zM385 413h1v1h-1zM140 414h1v1h-1zM157 414h1v1h-1zM385 414h1v1h-1zM140 415h1v1h-1zM157 415h1v1h-1zM385 415h1v1h-1zM140 416h1v1h-1zM157 416h1v1h-1zM385 416h1v1h-1zM140 417h1v1h-1zM157 417h1v1h-1zM385 417h1v1h-1zM41 418h4v1h-4zM140 418h1v1h-1zM157 418h1v1h-1zM385 418h1v1h-1zM41 419h1v1h-1zM44 419h1v1h-1zM140 419h1v1h-1zM157 419h1v1h-1zM385 419h1v1h-1zM41 420h1v1h-1zM44 420h1v1h-1zM140 420h1v1h-1zM157 420h1v1h-1zM222 420h34v1h-34zM385 420h1v1h-1zM41 421h1v1h-1zM44 421h1v1h-1zM140 421h1v1h-1zM157 421h1v1h-1zM385 421h1v1h-1zM41 422h4v1h-4zM140 422h1v1h-1zM157 422h1v1h-1zM385 422h1v1h-1zM140 423h1v1h-1zM157 423h1v1h-1zM385 423h1v1h-1zM140 424h1v1h-1zM157 424h1v1h-1zM385 424h1v1h-1zM140 425h1v1h-1zM157 425h1v1h-1zM385 425h1v1h-1zM138 426h5v1h-5zM155 426h5v1h-5zM171 426h5v1h-5zM385 426h1v1h-1zM138 427h5v1h-5zM155 427h5v1h-5zM171 427h5v1h-5zM385 427h1v1h-1zM83 428h18v1h-18zM132 428h58v1h-58zM385 428h1v1h-1zM138 429h5v1h-5zM155 429h5v1h-5zM171 429h5v1h-5zM385 429h1v1h-1zM138 430h5v1h-5zM155 430h5v1h-5zM171 430h5v1h-5zM385 430h1v1h-1zM173 431h1v1h-1zM385 431h1v1h-1zM173 432h1v1h-1zM385 432h1v1h-1zM173 433h1v1h-1zM385 433h1v1h-1zM173 434h1v1h-1zM385 434h1v1h-1zM41 435h4v1h-4zM173 435h1v1h-1zM385 435h1v1h-1zM41 436h1v1h-1zM44 436h1v1h-1zM173 436h1v1h-1zM385 436h1v1h-1zM41 437h1v1h-1zM44 437h1v1h-1zM385 437h1v1h-1zM41 438h4v1h-4zM385 438h1v1h-1zM385 439h1v1h-1zM385 440h1v1h-1zM385 441h1v1h-1zM385 442h1v1h-1zM385 443h1v1h-1zM385 444h1v1h-1zM287 445h1v1h-1zM385 445h1v1h-1zM287 446h1v1h-1zM385 446h1v1h-1zM287 447h1v1h-1zM385 447h1v1h-1zM287 448h1v1h-1zM385 448h1v1h-1zM287 449h1v1h-1zM385 449h1v1h-1zM287 450h1v1h-1zM385 450h1v1h-1zM285 451h5v1h-5zM385 451h1v1h-1zM285 452h5v1h-5zM385 452h1v1h-1zM285 453h52v1h-52zM385 453h1v1h-1zM285 454h5v1h-5zM336 454h1v1h-1zM385 454h1v1h-1zM285 455h5v1h-5zM336 455h1v1h-1zM385 455h1v1h-1zM287 456h1v1h-1zM336 456h1v1h-1zM385 456h1v1h-1zM287 457h1v1h-1zM336 457h1v1h-1zM385 457h1v1h-1zM287 458h1v1h-1zM336 458h1v1h-1zM385 458h1v1h-1zM287 459h1v1h-1zM336 459h1v1h-1zM385 459h1v1h-1zM287 460h1v1h-1zM336 460h1v1h-1zM385 460h1v1h-1zM287 461h1v1h-1zM336 461h1v1h-1zM385 461h1v1h-1zM287 462h1v1h-1zM336 462h1v1h-1zM385 462h1v1h-1zM287 463h1v1h-1zM336 463h1v1h-1zM385 463h1v1h-1zM287 464h1v1h-1zM336 464h1v1h-1zM385 464h1v1h-1zM287 465h1v1h-1zM336 465h1v1h-1zM385 465h1v1h-1zM287 466h1v1h-1zM336 466h1v1h-1zM385 466h1v1h-1zM287 467h1v1h-1zM336 467h1v1h-1zM385 467h1v1h-1zM287 468h1v1h-1zM336 468h1v1h-1zM385 468h1v1h-1zM287 469h1v1h-1zM336 469h1v1h-1zM385 469h1v1h-1zM336 470h1v1h-1zM336 471h1v1h-1zM336 472h1v1h-1zM336 473h1v1h-1zM336 474h1v1h-1zM336 475h1v1h-1zM336 476h1v1h-1zM173 477h1v1h-1zM336 477h1v1h-1zM173 478h1v1h-1zM336 478h1v1h-1zM173 479h1v1h-1zM336 479h1v1h-1zM173 480h1v1h-1zM336 480h1v1h-1zM173 481h1v1h-1zM336 481h1v1h-1zM173 482h1v1h-1zM336 482h1v1h-1zM173 483h1v1h-1zM336 483h1v1h-1zM173 484h1v1h-1zM336 484h1v1h-1zM165 485h18v1h-18zM336 485h1v1h-1zM165 486h1v1h-1zM181 486h1v1h-1zM336 486h1v1h-1zM166 487h1v1h-1zM180 487h1v1h-1zM336 487h1v1h-1zM167 488h1v1h-1zM179 488h1v1h-1zM336 488h1v1h-1zM168 489h1v1h-1zM178 489h1v1h-1zM336 489h1v1h-1zM169 490h1v1h-1zM177 490h1v1h-1zM336 490h1v1h-1zM170 491h1v1h-1zM176 491h1v1h-1zM334 491h5v1h-5zM171 492h1v1h-1zM175 492h1v1h-1zM334 492h5v1h-5zM172 493h1v1h-1zM174 493h1v1h-1zM320 493h34v1h-34zM173 494h1v1h-1zM334 494h5v1h-5zM334 495h5v1h-5zM287 518h1v1h-1zM385 518h1v1h-1zM287 519h1v1h-1zM385 519h1v1h-1zM287 520h1v1h-1zM385 520h1v1h-1zM287 521h1v1h-1zM385 521h1v1h-1zM287 522h1v1h-1zM385 522h1v1h-1zM287 523h1v1h-1zM385 523h1v1h-1zM287 524h1v1h-1zM383 524h5v1h-5zM287 525h1v1h-1zM383 525h5v1h-5zM287 526h101v1h-101zM383 527h5v1h-5zM383 528h5v1h-5zM385 529h1v1h-1zM385 530h1v1h-1zM385 531h1v1h-1zM385 532h1v1h-1zM385 533h1v1h-1zM385 534h1v1h-1zM385 535h1v1h-1zM385 536h1v1h-1zM385 537h1v1h-1zM385 538h1v1h-1zM385 539h1v1h-1zM385 540h1v1h-1zM385 541h1v1h-1zM385 542h1v1h-1z"/>
<path fill="#ececc4" d="M42 379h2v1h-2zM42 380h2v1h-2zM42 419h2v1h-2zM42 420h2v1h-2zM42 421h2v1h-2zM42 436h2v1h-2zM42 437h2v1h-2z"/>
<path fill="#000030" d="M42 347h1v1h-1zM189 347h1v1h-1zM866 347h1v1h-1zM670 363h1v1h-1zM345 370h1v1h-1zM164 485h1v1h-1z"/>
</g>
<g style="will-change:transform" stroke-width="0.4" paint-order="stroke">
<text x="86.40" y="253" font-size="10" style="letter-spacing:0.569px" fill="#000000" stroke="#000000">.param Rin = 47</text>
<text x="120.40" y="270" font-size="10" style="letter-spacing:0.478px" fill="#000000" stroke="#000000">R4</text>
<text x="113.83" y="300" font-size="10" style="letter-spacing:0.622px" fill="#000000" stroke="#000000">{Rin}</text>
<text x="63.85" y="302" font-size="10" style="letter-spacing:0.460px" fill="#000000" stroke="#000000">Vs1</text>
<text x="60.00" y="339" font-size="10" style="letter-spacing:0.475px" fill="#000000" stroke="#000000">SINE(0 1m 10k)</text>
<text x="62.17" y="358" font-size="10" style="letter-spacing:1.015px" fill="#000000" stroke="#000000">AC 1m</text>
<text x="180.31" y="302" font-size="10" style="letter-spacing:0.273px" fill="#000000" stroke="#000000">D2</text>
<text x="220.20" y="302" font-size="10" style="letter-spacing:0.078px" fill="#000000" stroke="#000000">D1</text>
<text x="156.40" y="334" font-size="10" style="letter-spacing:0.326px" fill="#000000" stroke="#000000">1N4148</text>
<text x="196.50" y="334" font-size="10" style="letter-spacing:0.354px" fill="#000000" stroke="#000000">1N4148</text>
<text x="33.86" y="376" font-size="10" style="letter-spacing:0.132px" fill="#000000" stroke="#000000">vc1</text>
<text x="112.80" y="400" font-size="10" style="letter-spacing:0.588px" fill="#000000" stroke="#000000">vc2</text>
<text x="33.80" y="417" font-size="10" style="letter-spacing:0.438px" fill="#000000" stroke="#000000">vc3</text>
<text x="33.86" y="433" font-size="10" style="letter-spacing:0.362px" fill="#000000" stroke="#000000">vc4</text>
<text x="108.81" y="417" font-size="10" style="letter-spacing:0.447px" fill="#000000" stroke="#000000">C5</text>
<text x="109.50" y="446" font-size="10" style="letter-spacing:0.928px" fill="#000000" stroke="#000000">1µ</text>
<text x="143.35" y="453" font-size="10" style="letter-spacing:0.075px" fill="#000000" stroke="#000000">R10</text>
<text x="143.37" y="471" font-size="10" style="letter-spacing:0.748px" fill="#000000" stroke="#000000">10k</text>
<text x="213.67" y="408" font-size="10" style="letter-spacing:-0.048px" fill="#000000" stroke="#000000">U1a</text>
<text x="213.51" y="440" font-size="10" style="letter-spacing:-0.009px" fill="#000000" stroke="#000000">NE5532</text>
<text x="308.68" y="368" font-size="10" style="letter-spacing:-0.407px" fill="#000000" stroke="#000000">R1</text>
<text x="307.10" y="398" font-size="10" style="letter-spacing:0.288px" fill="#000000" stroke="#000000">420</text>
<text x="297.49" y="414" font-size="10" style="letter-spacing:0.518px" fill="#000000" stroke="#000000">BC560C</text>
<text x="297.50" y="432" font-size="10" style="letter-spacing:0.522px" fill="#000000" stroke="#000000">Q3</text>
<text x="248.90" y="490" font-size="10" style="letter-spacing:0.597px" fill="#000000" stroke="#000000">BC337-40</text>
<text x="244.43" y="502" font-size="10" style="letter-spacing:0.862px" fill="#000000" stroke="#000000">temp={T0}</text>
<text x="316.85" y="486" font-size="10" style="letter-spacing:-0.622px" fill="#000000" stroke="#000000">Q1</text>
<text x="341.81" y="486" font-size="10" style="letter-spacing:0.134px" fill="#000000" stroke="#000000">Q2</text>
<text x="375.20" y="490" font-size="10" style="letter-spacing:0.483px" fill="#000000" stroke="#000000">BC337-40</text>
<text x="375.00" y="502" font-size="10" style="letter-spacing:0.963px" fill="#000000" stroke="#000000">temp={T0}</text>
<text x="373.40" y="277" font-size="10" style="letter-spacing:0.578px" fill="#000000" stroke="#000000">U4</text>
<text x="361.40" y="293" font-size="10" style="letter-spacing:1.180px" fill="#000000" stroke="#000000">MAT02</text>
<text x="370.20" y="183" font-size="10" style="letter-spacing:0.378px" fill="#000000" stroke="#000000">R2</text>
<text x="370.70" y="202" font-size="10" style="letter-spacing:0.600px" fill="#000000" stroke="#000000">2.2k</text>
<text x="419.40" y="183" font-size="10" style="letter-spacing:0.178px" fill="#000000" stroke="#000000">R3</text>
<text x="419.70" y="202" font-size="10" style="letter-spacing:0.600px" fill="#000000" stroke="#000000">2.2k</text>
<text x="500.35" y="183" font-size="10" style="letter-spacing:-0.019px" fill="#000000" stroke="#000000">R5</text>
<text x="492.10" y="202" font-size="10" style="letter-spacing:0.466px" fill="#000000" stroke="#000000">4.7k</text>
<text x="546.86" y="175" font-size="10" style="letter-spacing:0.291px" fill="#000000" stroke="#000000">C6</text>
<text x="542.13" y="200" font-size="10" style="letter-spacing:0.311px" fill="#000000" stroke="#000000">47p</text>
<text x="613.49" y="212" font-size="10" style="letter-spacing:0.223px" fill="#000000" stroke="#000000">U2a</text>
<text x="613.20" y="244" font-size="10" style="letter-spacing:0.165px" fill="#000000" stroke="#000000">NE5532</text>
<text x="499.70" y="257" font-size="10" style="letter-spacing:1.178px" fill="#000000" stroke="#000000">R6</text>
<text x="491.90" y="275" font-size="10" style="letter-spacing:0.533px" fill="#000000" stroke="#000000">4.7k</text>
<text x="546.51" y="248" font-size="10" style="letter-spacing:0.520px" fill="#000000" stroke="#000000">C1</text>
<text x="541.90" y="273" font-size="10" style="letter-spacing:0.488px" fill="#000000" stroke="#000000">47p</text>
<text x="607.00" y="278" font-size="10" style="letter-spacing:0.878px" fill="#000000" stroke="#000000">C2</text>
<text x="600.36" y="309" font-size="10" style="letter-spacing:0.854px" fill="#000000" stroke="#000000">100n</text>
<text x="617.34" y="326" font-size="10" style="letter-spacing:0.625px" fill="#000000" stroke="#000000">U1b</text>
<text x="599.81" y="359" font-size="10" style="letter-spacing:0.292px" fill="#000000" stroke="#000000">NE5532</text>
<text x="689.17" y="248" font-size="10" style="letter-spacing:0.473px" fill="#000000" stroke="#000000">R7</text>
<text x="689.20" y="267" font-size="10" style="letter-spacing:0.964px" fill="#000000" stroke="#000000">10k</text>
<text x="696.39" y="163" font-size="10" style="letter-spacing:0.732px" fill="#000000" stroke="#000000">VCAOut</text>
<text x="892.81" y="115" font-size="10" style="letter-spacing:1.166px" fill="#000000" stroke="#000000">C3</text>
<text x="886.50" y="145" font-size="10" style="letter-spacing:0.708px" fill="#000000" stroke="#000000">100n</text>
<text x="924.31" y="130" font-size="10" style="letter-spacing:0.875px" fill="#000000" stroke="#000000">Lchout</text>
<text x="825.95" y="204" font-size="10" style="letter-spacing:0.278px" fill="#000000" stroke="#000000">U2b</text>
<text x="825.70" y="236" font-size="10" style="letter-spacing:0.105px" fill="#000000" stroke="#000000">NE5532</text>
<text x="892.81" y="205" font-size="10" style="letter-spacing:0.682px" fill="#000000" stroke="#000000">C4</text>
<text x="886.50" y="235" font-size="10" style="letter-spacing:0.708px" fill="#000000" stroke="#000000">100n</text>
<text x="924.31" y="220" font-size="10" style="letter-spacing:0.652px" fill="#000000" stroke="#000000">Rchout</text>
<text x="884.17" y="257" font-size="10" style="letter-spacing:0.686px" fill="#000000" stroke="#000000">R8</text>
<text x="884.20" y="275" font-size="10" style="letter-spacing:1.199px" fill="#000000" stroke="#000000">1k</text>
<text x="884.23" y="314" font-size="10" style="letter-spacing:0.637px" fill="#000000" stroke="#000000">R9</text>
<text x="884.51" y="332" font-size="10" style="letter-spacing:0.792px" fill="#000000" stroke="#000000">220</text>
<text x="376.61" y="81" font-size="10" style="letter-spacing:0.636px" fill="#0000d0" stroke="#0000d0">(C) 2012 by Aziz Ögüt. All Rights Reserved.</text>
<text x="565.34" y="138" font-size="10" style="letter-spacing:0.729px" fill="#0000d0" stroke="#0000d0">VCA Amplifier Driver</text>
<text x="919.31" y="110" font-size="10" style="letter-spacing:0.868px" fill="#0000d0" stroke="#0000d0">Left Channel</text>
<text x="919.31" y="240" font-size="10" style="letter-spacing:0.695px" fill="#0000d0" stroke="#0000d0">Right Channel</text>
<text x="899.77" y="285" font-size="10" style="letter-spacing:0.495px" fill="#0000d0" stroke="#0000d0">Gain 2. Stage:</text>
<text x="899.80" y="299" font-size="10" style="letter-spacing:0.175px" fill="#0000d0" stroke="#0000d0">G = 1 + R8/R9</text>
<text x="682.36" y="285" font-size="10" style="letter-spacing:0.607px" fill="#0000d0" stroke="#0000d0">High-Pass (HP):</text>
<text x="682.87" y="299" font-size="10" style="letter-spacing:0.372px" fill="#0000d0" stroke="#0000d0">fc = 1/(2*pi*R7*C2)</text>
<text x="682.54" y="342" font-size="10" style="letter-spacing:0.613px" fill="#0000d0" stroke="#0000d0">AC Servo and HP</text>
<text x="613.20" y="257" font-size="10" style="letter-spacing:0.617px" fill="#0000d0" stroke="#0000d0">NJM2068</text>
<text x="825.70" y="248" font-size="10" style="letter-spacing:0.534px" fill="#0000d0" stroke="#0000d0">NJM2068</text>
<text x="588.20" y="371" font-size="10" style="letter-spacing:0.617px" fill="#0000d0" stroke="#0000d0">NJM2068</text>
<text x="213.50" y="453" font-size="10" style="letter-spacing:0.567px" fill="#0000d0" stroke="#0000d0">NJM2068</text>
<text x="368.20" y="212" font-size="10" style="letter-spacing:0.538px" fill="#0000d0" stroke="#0000d0">1%</text>
<text x="417.20" y="212" font-size="10" style="letter-spacing:0.548px" fill="#0000d0" stroke="#0000d0">1%</text>
<text x="499.20" y="212" font-size="10" style="letter-spacing:0.548px" fill="#0000d0" stroke="#0000d0">1%</text>
<text x="503.40" y="286" font-size="10" style="letter-spacing:0.238px" fill="#0000d0" stroke="#0000d0">1%</text>
<text x="266.20" y="240" font-size="10" style="letter-spacing:0.678px" fill="#0000d0" stroke="#0000d0">Differential Stage</text>
<text x="152.80" y="273" font-size="10" style="letter-spacing:0.547px" fill="#0000d0" stroke="#0000d0">Signal Input</text>
<text x="299.50" y="277" font-size="10" style="letter-spacing:0.000px" fill="#0000d0" stroke="#0000d0">+</text>
<text x="466.92" y="277" font-size="10" style="letter-spacing:0.000px" fill="#0000d0" stroke="#0000d0">-</text>
<text x="62.35" y="400" font-size="10" style="letter-spacing:0.559px" fill="#0000d0" stroke="#0000d0">DC Input</text>
<text x="62.50" y="444" font-size="10" style="letter-spacing:0.696px" fill="#0000d0" stroke="#0000d0">AC Input</text>
<text x="101.57" y="473" font-size="10" style="letter-spacing:0.891px" fill="#0000d0" stroke="#0000d0">VCA</text>
<text x="10.50" y="487" font-size="10" style="letter-spacing:0.781px" fill="#0000d0" stroke="#0000d0">Control Voltage Input</text>
<text x="53.46" y="502" font-size="10" style="letter-spacing:0.672px" fill="#0000d0" stroke="#0000d0">-1V: high gain</text>
<text x="56.46" y="516" font-size="10" style="letter-spacing:0.612px" fill="#0000d0" stroke="#0000d0">-0.1: low gain</text>
<text x="49.61" y="530" font-size="10" style="letter-spacing:0.560px" fill="#0000d0" stroke="#0000d0">0..+1V: no gain</text>
<text x="230.20" y="395" font-size="10" style="letter-spacing:0.687px" fill="#0000d0" stroke="#0000d0">V to I</text>
<text x="295.40" y="449" font-size="10" style="letter-spacing:0.978px" fill="#0000d0" stroke="#0000d0">Current Mirror</text>
<text x="388.79" y="453" font-size="10" style="letter-spacing:0.571px" fill="#0000d0" stroke="#0000d0">0 .. 4 mA</text>
<text x="393.17" y="355" font-size="10" style="letter-spacing:0.859px" fill="#0000d0" stroke="#0000d0">MAT02 or a</text>
<text x="393.16" y="369" font-size="10" style="letter-spacing:0.948px" fill="#0000d0" stroke="#0000d0">matched pair,</text>
<text x="393.67" y="383" font-size="10" style="letter-spacing:0.770px" fill="#0000d0" stroke="#0000d0">thermo-coupled BC337-40</text>
<text x="393.31" y="518" font-size="10" style="letter-spacing:0.868px" fill="#0000d0" stroke="#0000d0">MAT02 or a</text>
<text x="393.20" y="532" font-size="10" style="letter-spacing:0.968px" fill="#0000d0" stroke="#0000d0">matched pair,</text>
<text x="393.63" y="546" font-size="10" style="letter-spacing:0.780px" fill="#0000d0" stroke="#0000d0">thermo-coupled BC337-40</text>
<text x="372.26" y="38" font-size="17" style="font-weight:normal;letter-spacing:0.097px" stroke-width="0.6" fill="#0000cc" stroke="#0000cc">Voltage Controlled AC Amplifier</text>
<text x="379.17" y="58" font-size="17" style="font-weight:normal;letter-spacing:-0.185px" stroke-width="0.6" fill="#0000cc" stroke="#0000cc">(Small Signal, High Gain VCA)</text>
<text x="642.90" y="540" font-size="17" style="font-weight:normal;letter-spacing:-0.078px" stroke-width="0.6" fill="#0000cc" stroke="#0000cc">Patent Trolls! - Keep Out!</text>
<text transform="translate(55.00 263.00) rotate(-90) scale(0.9488 1)" x="-0.82" y="0" font-size="13.71" style="text-rendering:geometricPrecision" fill="#000000" stroke="#000000">inp</text>
<text transform="translate(390.00 133.20) rotate(-90) scale(0.9457 1)" x="0.00" y="0" font-size="13.57" style="text-rendering:geometricPrecision" fill="#000000" stroke="#000000">Vcc</text>
<text transform="translate(610.20 206.50) rotate(-90) scale(0.9162 1)" x="0.00" y="0" font-size="13.57" style="text-rendering:geometricPrecision" fill="#000000" stroke="#000000">Vcc</text>
<text transform="translate(610.20 262.70) rotate(-90) scale(0.9504 1)" x="0.00" y="0" font-size="13.57" style="text-rendering:geometricPrecision" fill="#000000" stroke="#000000">Vee</text>
<text transform="translate(823.20 198.80) rotate(-90) scale(0.9162 1)" x="0.00" y="0" font-size="13.57" style="text-rendering:geometricPrecision" fill="#000000" stroke="#000000">Vcc</text>
<text transform="translate(823.20 254.50) rotate(-90) scale(0.9504 1)" x="0.00" y="0" font-size="13.57" style="text-rendering:geometricPrecision" fill="#000000" stroke="#000000">Vee</text>
<text transform="translate(651.20 320.80) rotate(-90) scale(0.9162 1)" x="0.00" y="0" font-size="13.57" style="text-rendering:geometricPrecision" fill="#000000" stroke="#000000">Vcc</text>
<text transform="translate(651.20 377.50) rotate(-90) scale(0.9504 1)" x="0.00" y="0" font-size="13.57" style="text-rendering:geometricPrecision" fill="#000000" stroke="#000000">Vee</text>
<text transform="translate(209.50 402.10) rotate(-90) scale(0.8952 1)" x="0.00" y="0" font-size="13.57" style="text-rendering:geometricPrecision" fill="#000000" stroke="#000000">Vcc</text>
<text transform="translate(209.50 458.50) rotate(-90) scale(0.9504 1)" x="0.00" y="0" font-size="13.57" style="text-rendering:geometricPrecision" fill="#000000" stroke="#000000">Vee</text>
<text transform="translate(161.00 410.60) rotate(-90) scale(0.8751 1)" x="0.00" y="0" font-size="13.57" style="text-rendering:geometricPrecision" fill="#000000" stroke="#000000">vc</text>
<text transform="translate(390.20 564.70) rotate(-90) scale(0.9547 1)" x="0.00" y="0" font-size="13.57" style="text-rendering:geometricPrecision" fill="#000000" stroke="#000000">Vee</text>
</g>
</svg>
</body></html>
